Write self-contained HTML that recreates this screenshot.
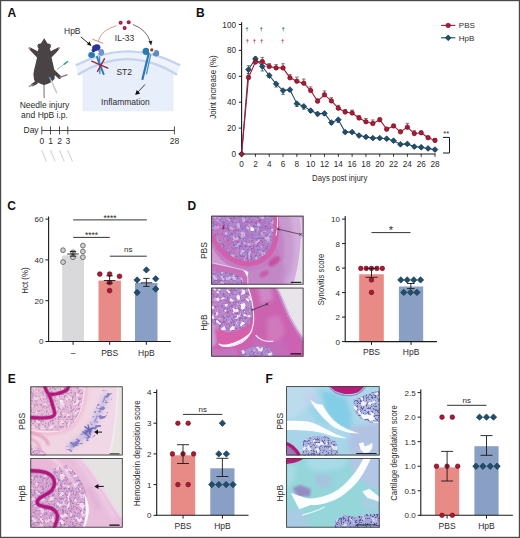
<!DOCTYPE html>
<html><head><meta charset="utf-8"><title>Figure</title>
<style>
html,body{margin:0;padding:0;background:#fff;}
body{width:520px;height:538px;overflow:hidden;font-family:"Liberation Sans",sans-serif;}
svg{display:block;font-family:"Liberation Sans",sans-serif;}
</style></head><body>
<svg width="520" height="538" viewBox="0 0 520 538">
<defs>
<filter id="b05" x="-20%" y="-20%" width="140%" height="140%"><feGaussianBlur stdDeviation="0.5"/></filter>
<filter id="b1" x="-20%" y="-20%" width="140%" height="140%"><feGaussianBlur stdDeviation="1"/></filter>
<filter id="b2" x="-30%" y="-30%" width="160%" height="160%"><feGaussianBlur stdDeviation="2"/></filter>
<filter id="b3" x="-40%" y="-40%" width="180%" height="180%"><feGaussianBlur stdDeviation="3.2"/></filter>
<filter id="spW" x="0" y="0" width="100%" height="100%" color-interpolation-filters="sRGB">
  <feTurbulence type="fractalNoise" baseFrequency="0.42" numOctaves="2" seed="7"/>
  <feColorMatrix values="0 0 0 0 1  0 0 0 0 1  0 0 0 0 1  9 0 0 0 -4.9"/>
  <feGaussianBlur stdDeviation="0.35"/>
</filter>
<filter id="spW2" x="0" y="0" width="100%" height="100%" color-interpolation-filters="sRGB">
  <feTurbulence type="fractalNoise" baseFrequency="0.3" numOctaves="2" seed="21"/>
  <feColorMatrix values="0 0 0 0 1  0 0 0 0 1  0 0 0 0 1  9 0 0 0 -5.0"/>
  <feGaussianBlur stdDeviation="0.4"/>
</filter>
<filter id="spP" x="0" y="0" width="100%" height="100%" color-interpolation-filters="sRGB">
  <feTurbulence type="fractalNoise" baseFrequency="0.5" numOctaves="2" seed="11"/>
  <feColorMatrix values="0 0 0 0 0.42  0 0 0 0 0.32  0 0 0 0 0.68  0 8 0 0 -4.1"/>
  <feGaussianBlur stdDeviation="0.35"/>
</filter>
<filter id="spD" x="0" y="0" width="100%" height="100%" color-interpolation-filters="sRGB">
  <feTurbulence type="fractalNoise" baseFrequency="0.55" numOctaves="2" seed="5"/>
  <feColorMatrix values="0 0 0 0 0.30  0 0 0 0 0.24  0 0 0 0 0.52  0 0 9 0 -4.7"/>
  <feGaussianBlur stdDeviation="0.3"/>
</filter>
<filter id="spK" x="0" y="0" width="100%" height="100%" color-interpolation-filters="sRGB">
  <feTurbulence type="fractalNoise" baseFrequency="0.22" numOctaves="2" seed="31"/>
  <feColorMatrix values="0 0 0 0 0.82  0 0 0 0 0.42  0 0 0 0 0.70  0 7 0 0 -3.5"/>
  <feGaussianBlur stdDeviation="0.5"/>
</filter>
<filter id="spW3" x="0" y="0" width="100%" height="100%" color-interpolation-filters="sRGB">
  <feTurbulence type="fractalNoise" baseFrequency="0.2" numOctaves="2" seed="44"/>
  <feColorMatrix values="0 0 0 0 1  0 0 0 0 0.97  0 0 0 0 1  0 0 10 0 -5.7"/>
  <feGaussianBlur stdDeviation="0.45"/>
</filter>
<filter id="spB" x="0" y="0" width="100%" height="100%" color-interpolation-filters="sRGB">
  <feTurbulence type="fractalNoise" baseFrequency="0.16 0.34" numOctaves="2" seed="9"/>
  <feColorMatrix values="0 0 0 0 0.47  0 0 0 0 0.46  0 0 0 0 0.77  0 10 0 0 -5.45"/>
  <feGaussianBlur stdDeviation="0.45"/>
</filter>
<filter id="grain" x="0" y="0" width="100%" height="100%" color-interpolation-filters="sRGB">
  <feTurbulence type="fractalNoise" baseFrequency="0.8" numOctaves="1" seed="3"/>
  <feColorMatrix values="0 0 0 0 1  0 0 0 0 1  0 0 0 0 1  1.2 0 0 0 -0.45"/>
</filter>
<clipPath id="cD1"><rect x="0" y="0" width="92.3" height="68.8"/></clipPath>
<clipPath id="cD2"><rect x="0" y="0" width="92.3" height="68.9"/></clipPath>
<clipPath id="cE1"><rect x="0" y="0" width="92.3" height="69"/></clipPath>
<clipPath id="cE2"><rect x="0" y="0" width="92.3" height="69.5"/></clipPath>
<clipPath id="cF1"><rect x="0" y="0" width="93.4" height="69.2"/></clipPath>
<clipPath id="cF2"><rect x="0" y="0" width="93.4" height="69.5"/></clipPath>
</defs>

<rect x="0" y="0" width="520" height="538" fill="#fff"/>
<g id="panelA">
<text x="7.5" y="17.3" font-size="12" text-anchor="start" fill="#111" font-weight="bold" >A</text>
<path d="M75.9 65.3Q128 37.3 180.1 65.3L177 74.7Q127.5 43.5 77.8 74.7Z" fill="#edf2fb"/>
<path d="M82.4 111.2V72Q127.5 46.6 173.6 72V111.2Z" fill="#e8eefa"/>
<path d="M75.9 65.3Q128 37.3 180.1 65.3" fill="none" stroke="#c4d3ee" stroke-width="2.3"/>
<path d="M77.8 74.7Q127.5 43.5 177 74.7" fill="none" stroke="#c4d3ee" stroke-width="2.3"/>
<circle cx="120.6" cy="22.8" r="2" fill="#9c1c38"/><circle cx="120.3" cy="22.5" r="0.8" fill="#b8405a"/>
<circle cx="128.7" cy="22.3" r="2" fill="#9c1c38"/><circle cx="128.39999999999998" cy="22.0" r="0.8" fill="#b8405a"/>
<circle cx="124.6" cy="27.9" r="2" fill="#9c1c38"/><circle cx="124.3" cy="27.599999999999998" r="0.8" fill="#b8405a"/>
<text x="124.5" y="41.2" font-size="8.5" text-anchor="middle" fill="#2b2b2b" >IL-33</text>
<text x="124.2" y="75.3" font-size="8.5" text-anchor="middle" fill="#2b2b2b" >ST2</text>
<text x="125.4" y="104.8" font-size="8.5" text-anchor="middle" fill="#2b2b2b" >Inflammation</text>
<text x="64" y="34.3" font-size="8.5" text-anchor="start" fill="#2b2b2b" >HpB</text>
<path d="M116.5 25.6Q101.5 30 98.2 41" fill="none" stroke="#c0715a" stroke-width="0.7"/>
<path d="M92.3 39.2L103.3 43.3" fill="none" stroke="#c0715a" stroke-width="0.8"/>
<path d="M80.8 36.9L89.6 44.3" fill="none" stroke="#111" stroke-width="0.9"/><path d="M91.6 46L86.9 44.6L89.5 41.6Z" fill="#111"/>
<path d="M97 57L103.6 74" stroke="#2a7ab0" stroke-width="2" fill="none" stroke-linecap="round"/>
<path d="M99.5 57L99.8 73.5" stroke="#3f8fd0" stroke-width="1.4" fill="none" stroke-linecap="round"/>
<ellipse cx="91.6" cy="55" rx="3.4" ry="3" fill="#2a7ab0"/>
<ellipse cx="101" cy="52.3" rx="3.2" ry="3.4" fill="#7692cc"/>
<ellipse cx="96.3" cy="47.6" rx="4.2" ry="3.2" fill="#28349a" transform="rotate(-15 96.3 47.6)"/>
<circle cx="93.6" cy="50.2" r="2" fill="#28349a"/>
<circle cx="97.2" cy="52.2" r="1.5" fill="#fff"/>
<path d="M91.7 61.2L107.9 68.1M104.4 58.8L97.5 71.5" stroke="#96283a" stroke-width="1.4" fill="none" stroke-linecap="round"/>
<path d="M148.7 53.8L142.5 79" stroke="#2a7ab0" stroke-width="2.2" fill="none" stroke-linecap="round"/>
<path d="M150.6 55L146.5 74" stroke="#4a8ccc" stroke-width="1.2" fill="none" stroke-linecap="round"/>
<ellipse cx="146" cy="51.3" rx="3.5" ry="3.6" fill="#2a7ab0"/>
<ellipse cx="156" cy="53.3" rx="3.2" ry="3.2" fill="#5f8ac8"/>
<circle cx="151.8" cy="50" r="2.9" fill="#fff"/>
<circle cx="151.8" cy="49.9" r="1.6" fill="#a8301e"/>
<path d="M133 24.5Q146.5 29.5 150.4 42" fill="none" stroke="#3a2a2a" stroke-width="0.7"/><path d="M151.2 45.4L148.4 41.3L152.4 40.7Z" fill="#222"/>
<path d="M145 84.5L138 92" fill="none" stroke="#111" stroke-width="0.8"/><path d="M135.2 95L136.6 90L140.2 93.4Z" fill="#111"/>
<g>
<path d="M44 83L44.1 97.6" stroke="#8d7478" stroke-width="1.1" fill="none" stroke-linecap="round"/>
<path d="M35.6 77.5L36.4 82.6L32.6 84.8" stroke="#4a4346" stroke-width="3" fill="none" stroke-linecap="round" stroke-linejoin="round"/>
<path d="M33 84.6L29.4 86.4" stroke="#a3878b" stroke-width="1.3" fill="none" stroke-linecap="round"/>
<path d="M53.6 71.5L59.4 77" stroke="#4a4346" stroke-width="3.6" fill="none" stroke-linecap="round"/>
<path d="M59.8 77.4L66.8 74.8" stroke="#8d7478" stroke-width="1.4" fill="none" stroke-linecap="round"/>
<path d="M44.2 38.3L46 41L47.5 43.5Q50.6 43.2 51 45.6Q51 47.4 49.8 48.5L50.8 51.3L58 47.4Q59.4 47.6 59 49.4L56.5 52.2L51.5 57.5L52.8 63L54.2 69Q55.6 74 54.5 79Q51 83.4 44.2 85Q37.4 83.4 34 79.5Q32.6 74 34.3 69L35.8 63L37 57.5L32 52.2L29.4 49.4Q29 47.6 30.4 47.4L37.6 51.3L38.6 48.5Q37.4 47.4 37.4 45.6Q37.8 43.2 40.9 43.5L42.4 41Z" fill="#4a4346"/>
<circle cx="29.4" cy="48.2" r="1.1" fill="#c98f94"/><circle cx="59" cy="48.2" r="1.1" fill="#c98f94"/>
<circle cx="38.4" cy="45.6" r="0.8" fill="#6b5a5e"/><circle cx="50" cy="45.6" r="0.8" fill="#6b5a5e"/>
<path d="M57 69.4L66 62.8" stroke="#6b8f8a" stroke-width="0.6" fill="none"/>
<path d="M64.2 64.2L67.6 61.7" stroke="#2fa58a" stroke-width="1.5" fill="none" stroke-linecap="round"/>
<path d="M49.6 77.5L51.4 81" stroke="#5fa8d8" stroke-width="1.4" fill="none" stroke-linecap="round"/>
<path d="M51.4 81L56.6 92.6" stroke="#c9cdd0" stroke-width="1.6" fill="none" stroke-linecap="round"/>
</g>
<text x="44.5" y="108.1" font-size="8.5" text-anchor="middle" fill="#2b2b2b" >Needle injury</text>
<text x="44.5" y="118.1" font-size="8.5" text-anchor="middle" fill="#2b2b2b" >and HpB i.p.</text>
<text x="23.5" y="132.7" font-size="8.5" text-anchor="start" fill="#2b2b2b" >Day</text>
<line x1="41.80" y1="130.50" x2="174.40" y2="130.50" stroke="#222" stroke-width="0.8" />
<line x1="41.80" y1="126.40" x2="41.80" y2="134.40" stroke="#222" stroke-width="0.8" />
<line x1="50.50" y1="126.40" x2="50.50" y2="134.40" stroke="#222" stroke-width="0.8" />
<line x1="59.50" y1="126.40" x2="59.50" y2="134.40" stroke="#222" stroke-width="0.8" />
<line x1="67.80" y1="126.40" x2="67.80" y2="134.40" stroke="#222" stroke-width="0.8" />
<line x1="174.40" y1="126.40" x2="174.40" y2="134.40" stroke="#222" stroke-width="0.8" />
<text x="41.8" y="144.2" font-size="8.5" text-anchor="middle" fill="#2b2b2b" >0</text>
<text x="50.5" y="144.2" font-size="8.5" text-anchor="middle" fill="#2b2b2b" >1</text>
<text x="59.5" y="144.2" font-size="8.5" text-anchor="middle" fill="#2b2b2b" >2</text>
<text x="67.8" y="144.2" font-size="8.5" text-anchor="middle" fill="#2b2b2b" >3</text>
<text x="174.4" y="144.2" font-size="8.5" text-anchor="middle" fill="#2b2b2b" >28</text>
<path d="M41.8 150.5L46.3 161" stroke="#d9d9d9" stroke-width="1.2" fill="none" stroke-linecap="round"/>
<path d="M50.5 150.5L55.0 161" stroke="#d9d9d9" stroke-width="1.2" fill="none" stroke-linecap="round"/>
<path d="M59.5 150.5L64.0 161" stroke="#d9d9d9" stroke-width="1.2" fill="none" stroke-linecap="round"/>
<path d="M67.8 150.5L72.3 161" stroke="#d9d9d9" stroke-width="1.2" fill="none" stroke-linecap="round"/>
</g>
<g id="panelB">
<text x="196" y="16.5" font-size="12" text-anchor="start" fill="#111" font-weight="bold" >B</text>
<line x1="241.60" y1="22.20" x2="241.60" y2="154.50" stroke="#1a1a1a" stroke-width="1.1" />
<line x1="241.10" y1="154.00" x2="435.60" y2="154.00" stroke="#1a1a1a" stroke-width="1.1" />
<line x1="238.80" y1="154.00" x2="241.60" y2="154.00" stroke="#1a1a1a" stroke-width="1" />
<text x="236.0" y="157.0" font-size="8.2" text-anchor="end" fill="#2b2b2b" >0</text>
<line x1="238.80" y1="128.10" x2="241.60" y2="128.10" stroke="#1a1a1a" stroke-width="1" />
<text x="236.0" y="131.1" font-size="8.2" text-anchor="end" fill="#2b2b2b" >20</text>
<line x1="238.80" y1="102.20" x2="241.60" y2="102.20" stroke="#1a1a1a" stroke-width="1" />
<text x="236.0" y="105.2" font-size="8.2" text-anchor="end" fill="#2b2b2b" >40</text>
<line x1="238.80" y1="76.30" x2="241.60" y2="76.30" stroke="#1a1a1a" stroke-width="1" />
<text x="236.0" y="79.30000000000001" font-size="8.2" text-anchor="end" fill="#2b2b2b" >60</text>
<line x1="238.80" y1="50.40" x2="241.60" y2="50.40" stroke="#1a1a1a" stroke-width="1" />
<text x="236.0" y="53.400000000000006" font-size="8.2" text-anchor="end" fill="#2b2b2b" >80</text>
<line x1="238.80" y1="24.50" x2="241.60" y2="24.50" stroke="#1a1a1a" stroke-width="1" />
<text x="236.0" y="27.5" font-size="8.2" text-anchor="end" fill="#2b2b2b" >100</text>
<line x1="241.60" y1="154.00" x2="241.60" y2="156.80" stroke="#1a1a1a" stroke-width="0.9" />
<line x1="255.41" y1="154.00" x2="255.41" y2="156.80" stroke="#1a1a1a" stroke-width="0.9" />
<line x1="269.23" y1="154.00" x2="269.23" y2="156.80" stroke="#1a1a1a" stroke-width="0.9" />
<line x1="283.04" y1="154.00" x2="283.04" y2="156.80" stroke="#1a1a1a" stroke-width="0.9" />
<line x1="296.86" y1="154.00" x2="296.86" y2="156.80" stroke="#1a1a1a" stroke-width="0.9" />
<line x1="310.67" y1="154.00" x2="310.67" y2="156.80" stroke="#1a1a1a" stroke-width="0.9" />
<line x1="324.48" y1="154.00" x2="324.48" y2="156.80" stroke="#1a1a1a" stroke-width="0.9" />
<line x1="338.30" y1="154.00" x2="338.30" y2="156.80" stroke="#1a1a1a" stroke-width="0.9" />
<line x1="352.11" y1="154.00" x2="352.11" y2="156.80" stroke="#1a1a1a" stroke-width="0.9" />
<line x1="365.93" y1="154.00" x2="365.93" y2="156.80" stroke="#1a1a1a" stroke-width="0.9" />
<line x1="379.74" y1="154.00" x2="379.74" y2="156.80" stroke="#1a1a1a" stroke-width="0.9" />
<line x1="393.55" y1="154.00" x2="393.55" y2="156.80" stroke="#1a1a1a" stroke-width="0.9" />
<line x1="407.37" y1="154.00" x2="407.37" y2="156.80" stroke="#1a1a1a" stroke-width="0.9" />
<line x1="421.18" y1="154.00" x2="421.18" y2="156.80" stroke="#1a1a1a" stroke-width="0.9" />
<line x1="435.00" y1="154.00" x2="435.00" y2="156.80" stroke="#1a1a1a" stroke-width="0.9" />
<text x="241.6" y="167.2" font-size="8.2" text-anchor="middle" fill="#2b2b2b" >0</text>
<text x="255.414" y="167.2" font-size="8.2" text-anchor="middle" fill="#2b2b2b" >2</text>
<text x="269.228" y="167.2" font-size="8.2" text-anchor="middle" fill="#2b2b2b" >4</text>
<text x="283.042" y="167.2" font-size="8.2" text-anchor="middle" fill="#2b2b2b" >6</text>
<text x="296.856" y="167.2" font-size="8.2" text-anchor="middle" fill="#2b2b2b" >8</text>
<text x="310.66999999999996" y="167.2" font-size="8.2" text-anchor="middle" fill="#2b2b2b" >10</text>
<text x="324.484" y="167.2" font-size="8.2" text-anchor="middle" fill="#2b2b2b" >12</text>
<text x="338.298" y="167.2" font-size="8.2" text-anchor="middle" fill="#2b2b2b" >14</text>
<text x="352.11199999999997" y="167.2" font-size="8.2" text-anchor="middle" fill="#2b2b2b" >16</text>
<text x="365.926" y="167.2" font-size="8.2" text-anchor="middle" fill="#2b2b2b" >18</text>
<text x="379.74" y="167.2" font-size="8.2" text-anchor="middle" fill="#2b2b2b" >20</text>
<text x="393.554" y="167.2" font-size="8.2" text-anchor="middle" fill="#2b2b2b" >22</text>
<text x="407.368" y="167.2" font-size="8.2" text-anchor="middle" fill="#2b2b2b" >24</text>
<text x="421.182" y="167.2" font-size="8.2" text-anchor="middle" fill="#2b2b2b" >26</text>
<text x="434.996" y="167.2" font-size="8.2" text-anchor="middle" fill="#2b2b2b" >28</text>
<text x="215.70000000000002" y="87" font-size="8.5" text-anchor="middle" fill="#2b2b2b" textLength="63.5" lengthAdjust="spacingAndGlyphs" transform="rotate(-90 215.70000000000002 87)" >Joint increase (%)</text>
<text x="339.7" y="180.7" font-size="8.5" text-anchor="middle" fill="#2b2b2b" textLength="55.2" lengthAdjust="spacingAndGlyphs" >Days post injury</text>
<line x1="248.51" y1="69.57" x2="248.51" y2="65.68" stroke="#33424e" stroke-width="0.7" /><line x1="246.71" y1="65.68" x2="250.31" y2="65.68" stroke="#33424e" stroke-width="0.7" /><line x1="248.51" y1="69.57" x2="248.51" y2="73.45" stroke="#33424e" stroke-width="0.7" /><line x1="246.71" y1="73.45" x2="250.31" y2="73.45" stroke="#33424e" stroke-width="0.7" />
<line x1="255.41" y1="58.82" x2="255.41" y2="56.88" stroke="#33424e" stroke-width="0.7" /><line x1="253.61" y1="56.88" x2="257.21" y2="56.88" stroke="#33424e" stroke-width="0.7" /><line x1="255.41" y1="58.82" x2="255.41" y2="60.76" stroke="#33424e" stroke-width="0.7" /><line x1="253.61" y1="60.76" x2="257.21" y2="60.76" stroke="#33424e" stroke-width="0.7" />
<line x1="262.32" y1="66.46" x2="262.32" y2="70.99" stroke="#33424e" stroke-width="0.7" /><line x1="260.52" y1="70.99" x2="264.12" y2="70.99" stroke="#33424e" stroke-width="0.7" />
<line x1="269.23" y1="75.52" x2="269.23" y2="77.47" stroke="#33424e" stroke-width="0.7" /><line x1="267.43" y1="77.47" x2="271.03" y2="77.47" stroke="#33424e" stroke-width="0.7" />
<line x1="276.13" y1="83.81" x2="276.13" y2="87.05" stroke="#33424e" stroke-width="0.7" /><line x1="274.33" y1="87.05" x2="277.94" y2="87.05" stroke="#33424e" stroke-width="0.7" />
<line x1="283.04" y1="90.55" x2="283.04" y2="94.43" stroke="#33424e" stroke-width="0.7" /><line x1="281.24" y1="94.43" x2="284.84" y2="94.43" stroke="#33424e" stroke-width="0.7" />
<line x1="289.95" y1="89.64" x2="289.95" y2="91.58" stroke="#33424e" stroke-width="0.7" /><line x1="288.15" y1="91.58" x2="291.75" y2="91.58" stroke="#33424e" stroke-width="0.7" />
<line x1="296.86" y1="103.62" x2="296.86" y2="106.47" stroke="#33424e" stroke-width="0.7" /><line x1="295.06" y1="106.47" x2="298.66" y2="106.47" stroke="#33424e" stroke-width="0.7" />
<line x1="303.76" y1="106.34" x2="303.76" y2="109.19" stroke="#33424e" stroke-width="0.7" /><line x1="301.96" y1="109.19" x2="305.56" y2="109.19" stroke="#33424e" stroke-width="0.7" />
<line x1="310.67" y1="110.62" x2="310.67" y2="112.56" stroke="#33424e" stroke-width="0.7" /><line x1="308.87" y1="112.56" x2="312.47" y2="112.56" stroke="#33424e" stroke-width="0.7" />
<line x1="317.58" y1="113.86" x2="317.58" y2="115.80" stroke="#33424e" stroke-width="0.7" /><line x1="315.78" y1="115.80" x2="319.38" y2="115.80" stroke="#33424e" stroke-width="0.7" />
<line x1="324.48" y1="113.34" x2="324.48" y2="115.28" stroke="#33424e" stroke-width="0.7" /><line x1="322.68" y1="115.28" x2="326.28" y2="115.28" stroke="#33424e" stroke-width="0.7" />
<line x1="331.39" y1="122.53" x2="331.39" y2="124.47" stroke="#33424e" stroke-width="0.7" /><line x1="329.59" y1="124.47" x2="333.19" y2="124.47" stroke="#33424e" stroke-width="0.7" />
<line x1="338.30" y1="119.68" x2="338.30" y2="122.53" stroke="#33424e" stroke-width="0.7" /><line x1="336.50" y1="122.53" x2="340.10" y2="122.53" stroke="#33424e" stroke-width="0.7" />
<line x1="345.20" y1="132.11" x2="345.20" y2="133.41" stroke="#33424e" stroke-width="0.7" /><line x1="343.40" y1="133.41" x2="347.00" y2="133.41" stroke="#33424e" stroke-width="0.7" />
<line x1="352.11" y1="132.11" x2="352.11" y2="133.41" stroke="#33424e" stroke-width="0.7" /><line x1="350.31" y1="133.41" x2="353.91" y2="133.41" stroke="#33424e" stroke-width="0.7" />
<line x1="359.02" y1="135.48" x2="359.02" y2="136.78" stroke="#33424e" stroke-width="0.7" /><line x1="357.22" y1="136.78" x2="360.82" y2="136.78" stroke="#33424e" stroke-width="0.7" />
<line x1="365.93" y1="136.91" x2="365.93" y2="138.20" stroke="#33424e" stroke-width="0.7" /><line x1="364.13" y1="138.20" x2="367.73" y2="138.20" stroke="#33424e" stroke-width="0.7" />
<line x1="372.83" y1="138.07" x2="372.83" y2="139.37" stroke="#33424e" stroke-width="0.7" /><line x1="371.03" y1="139.37" x2="374.63" y2="139.37" stroke="#33424e" stroke-width="0.7" />
<line x1="379.74" y1="138.07" x2="379.74" y2="139.37" stroke="#33424e" stroke-width="0.7" /><line x1="377.94" y1="139.37" x2="381.54" y2="139.37" stroke="#33424e" stroke-width="0.7" />
<line x1="386.65" y1="138.72" x2="386.65" y2="140.01" stroke="#33424e" stroke-width="0.7" /><line x1="384.85" y1="140.01" x2="388.45" y2="140.01" stroke="#33424e" stroke-width="0.7" />
<line x1="393.55" y1="140.66" x2="393.55" y2="141.96" stroke="#33424e" stroke-width="0.7" /><line x1="391.75" y1="141.96" x2="395.35" y2="141.96" stroke="#33424e" stroke-width="0.7" />
<line x1="400.46" y1="144.29" x2="400.46" y2="145.58" stroke="#33424e" stroke-width="0.7" /><line x1="398.66" y1="145.58" x2="402.26" y2="145.58" stroke="#33424e" stroke-width="0.7" />
<line x1="407.37" y1="143.90" x2="407.37" y2="145.19" stroke="#33424e" stroke-width="0.7" /><line x1="405.57" y1="145.19" x2="409.17" y2="145.19" stroke="#33424e" stroke-width="0.7" />
<line x1="414.27" y1="146.62" x2="414.27" y2="147.91" stroke="#33424e" stroke-width="0.7" /><line x1="412.47" y1="147.91" x2="416.07" y2="147.91" stroke="#33424e" stroke-width="0.7" />
<line x1="421.18" y1="147.27" x2="421.18" y2="148.56" stroke="#33424e" stroke-width="0.7" /><line x1="419.38" y1="148.56" x2="422.98" y2="148.56" stroke="#33424e" stroke-width="0.7" />
<line x1="428.09" y1="148.43" x2="428.09" y2="149.73" stroke="#33424e" stroke-width="0.7" /><line x1="426.29" y1="149.73" x2="429.89" y2="149.73" stroke="#33424e" stroke-width="0.7" />
<line x1="435.00" y1="149.60" x2="435.00" y2="150.89" stroke="#33424e" stroke-width="0.7" /><line x1="433.20" y1="150.89" x2="436.80" y2="150.89" stroke="#33424e" stroke-width="0.7" />
<polyline points="241.60,154.00 248.51,69.57 255.41,58.82 262.32,66.46 269.23,75.52 276.13,83.81 283.04,90.55 289.95,89.64 296.86,103.62 303.76,106.34 310.67,110.62 317.58,113.86 324.48,113.34 331.39,122.53 338.30,119.68 345.20,132.11 352.11,132.11 359.02,135.48 365.93,136.91 372.83,138.07 379.74,138.07 386.65,138.72 393.55,140.66 400.46,144.29 407.37,143.90 414.27,146.62 421.18,147.27 428.09,148.43 435.00,149.60" fill="none" stroke="#1f4e6e" stroke-width="1.1" stroke-linejoin="round"/>
<path d="M241.60 151.10L244.50 154.00L241.60 156.90L238.70 154.00Z" fill="#1f4e6e" stroke="#0e2a3c" stroke-width="0.6"/>
<path d="M248.51 66.67L251.41 69.57L248.51 72.47L245.61 69.57Z" fill="#1f4e6e" stroke="#0e2a3c" stroke-width="0.6"/>
<path d="M255.41 55.92L258.31 58.82L255.41 61.72L252.51 58.82Z" fill="#1f4e6e" stroke="#0e2a3c" stroke-width="0.6"/>
<path d="M262.32 63.56L265.22 66.46L262.32 69.36L259.42 66.46Z" fill="#1f4e6e" stroke="#0e2a3c" stroke-width="0.6"/>
<path d="M269.23 72.62L272.13 75.52L269.23 78.42L266.33 75.52Z" fill="#1f4e6e" stroke="#0e2a3c" stroke-width="0.6"/>
<path d="M276.13 80.91L279.03 83.81L276.13 86.71L273.24 83.81Z" fill="#1f4e6e" stroke="#0e2a3c" stroke-width="0.6"/>
<path d="M283.04 87.64L285.94 90.55L283.04 93.45L280.14 90.55Z" fill="#1f4e6e" stroke="#0e2a3c" stroke-width="0.6"/>
<path d="M289.95 86.74L292.85 89.64L289.95 92.54L287.05 89.64Z" fill="#1f4e6e" stroke="#0e2a3c" stroke-width="0.6"/>
<path d="M296.86 100.72L299.76 103.62L296.86 106.52L293.96 103.62Z" fill="#1f4e6e" stroke="#0e2a3c" stroke-width="0.6"/>
<path d="M303.76 103.44L306.66 106.34L303.76 109.24L300.86 106.34Z" fill="#1f4e6e" stroke="#0e2a3c" stroke-width="0.6"/>
<path d="M310.67 107.72L313.57 110.62L310.67 113.52L307.77 110.62Z" fill="#1f4e6e" stroke="#0e2a3c" stroke-width="0.6"/>
<path d="M317.58 110.95L320.48 113.86L317.58 116.76L314.68 113.86Z" fill="#1f4e6e" stroke="#0e2a3c" stroke-width="0.6"/>
<path d="M324.48 110.44L327.38 113.34L324.48 116.24L321.58 113.34Z" fill="#1f4e6e" stroke="#0e2a3c" stroke-width="0.6"/>
<path d="M331.39 119.63L334.29 122.53L331.39 125.43L328.49 122.53Z" fill="#1f4e6e" stroke="#0e2a3c" stroke-width="0.6"/>
<path d="M338.30 116.78L341.20 119.68L338.30 122.58L335.40 119.68Z" fill="#1f4e6e" stroke="#0e2a3c" stroke-width="0.6"/>
<path d="M345.20 129.21L348.10 132.11L345.20 135.01L342.31 132.11Z" fill="#1f4e6e" stroke="#0e2a3c" stroke-width="0.6"/>
<path d="M352.11 129.21L355.01 132.11L352.11 135.01L349.21 132.11Z" fill="#1f4e6e" stroke="#0e2a3c" stroke-width="0.6"/>
<path d="M359.02 132.58L361.92 135.48L359.02 138.38L356.12 135.48Z" fill="#1f4e6e" stroke="#0e2a3c" stroke-width="0.6"/>
<path d="M365.93 134.01L368.83 136.91L365.93 139.81L363.03 136.91Z" fill="#1f4e6e" stroke="#0e2a3c" stroke-width="0.6"/>
<path d="M372.83 135.17L375.73 138.07L372.83 140.97L369.93 138.07Z" fill="#1f4e6e" stroke="#0e2a3c" stroke-width="0.6"/>
<path d="M379.74 135.17L382.64 138.07L379.74 140.97L376.84 138.07Z" fill="#1f4e6e" stroke="#0e2a3c" stroke-width="0.6"/>
<path d="M386.65 135.82L389.55 138.72L386.65 141.62L383.75 138.72Z" fill="#1f4e6e" stroke="#0e2a3c" stroke-width="0.6"/>
<path d="M393.55 137.76L396.45 140.66L393.55 143.56L390.65 140.66Z" fill="#1f4e6e" stroke="#0e2a3c" stroke-width="0.6"/>
<path d="M400.46 141.39L403.36 144.29L400.46 147.19L397.56 144.29Z" fill="#1f4e6e" stroke="#0e2a3c" stroke-width="0.6"/>
<path d="M407.37 141.00L410.27 143.90L407.37 146.80L404.47 143.90Z" fill="#1f4e6e" stroke="#0e2a3c" stroke-width="0.6"/>
<path d="M414.27 143.72L417.17 146.62L414.27 149.52L411.38 146.62Z" fill="#1f4e6e" stroke="#0e2a3c" stroke-width="0.6"/>
<path d="M421.18 144.37L424.08 147.27L421.18 150.17L418.28 147.27Z" fill="#1f4e6e" stroke="#0e2a3c" stroke-width="0.6"/>
<path d="M428.09 145.53L430.99 148.43L428.09 151.33L425.19 148.43Z" fill="#1f4e6e" stroke="#0e2a3c" stroke-width="0.6"/>
<path d="M435.00 146.70L437.90 149.60L435.00 152.50L432.10 149.60Z" fill="#1f4e6e" stroke="#0e2a3c" stroke-width="0.6"/>
<line x1="248.51" y1="77.59" x2="248.51" y2="75.65" stroke="#5a3a42" stroke-width="0.7" /><line x1="246.71" y1="75.65" x2="250.31" y2="75.65" stroke="#5a3a42" stroke-width="0.7" />
<line x1="255.41" y1="62.06" x2="255.41" y2="59.47" stroke="#5a3a42" stroke-width="0.7" /><line x1="253.61" y1="59.47" x2="257.21" y2="59.47" stroke="#5a3a42" stroke-width="0.7" />
<line x1="262.32" y1="61.54" x2="262.32" y2="57.39" stroke="#5a3a42" stroke-width="0.7" /><line x1="260.52" y1="57.39" x2="264.12" y2="57.39" stroke="#5a3a42" stroke-width="0.7" />
<line x1="269.23" y1="66.46" x2="269.23" y2="63.61" stroke="#5a3a42" stroke-width="0.7" /><line x1="267.43" y1="63.61" x2="271.03" y2="63.61" stroke="#5a3a42" stroke-width="0.7" />
<line x1="276.13" y1="67.88" x2="276.13" y2="64.65" stroke="#5a3a42" stroke-width="0.7" /><line x1="274.33" y1="64.65" x2="277.94" y2="64.65" stroke="#5a3a42" stroke-width="0.7" />
<line x1="283.04" y1="67.88" x2="283.04" y2="63.74" stroke="#5a3a42" stroke-width="0.7" /><line x1="281.24" y1="63.74" x2="284.84" y2="63.74" stroke="#5a3a42" stroke-width="0.7" />
<line x1="289.95" y1="77.85" x2="289.95" y2="74.62" stroke="#5a3a42" stroke-width="0.7" /><line x1="288.15" y1="74.62" x2="291.75" y2="74.62" stroke="#5a3a42" stroke-width="0.7" />
<line x1="296.86" y1="81.22" x2="296.86" y2="77.08" stroke="#5a3a42" stroke-width="0.7" /><line x1="295.06" y1="77.08" x2="298.66" y2="77.08" stroke="#5a3a42" stroke-width="0.7" />
<line x1="303.76" y1="83.16" x2="303.76" y2="79.02" stroke="#5a3a42" stroke-width="0.7" /><line x1="301.96" y1="79.02" x2="305.56" y2="79.02" stroke="#5a3a42" stroke-width="0.7" />
<line x1="310.67" y1="90.55" x2="310.67" y2="86.92" stroke="#5a3a42" stroke-width="0.7" /><line x1="308.87" y1="86.92" x2="312.47" y2="86.92" stroke="#5a3a42" stroke-width="0.7" />
<line x1="317.58" y1="101.16" x2="317.58" y2="98.83" stroke="#5a3a42" stroke-width="0.7" /><line x1="315.78" y1="98.83" x2="319.38" y2="98.83" stroke="#5a3a42" stroke-width="0.7" />
<line x1="324.48" y1="94.82" x2="324.48" y2="90.93" stroke="#5a3a42" stroke-width="0.7" /><line x1="322.68" y1="90.93" x2="326.28" y2="90.93" stroke="#5a3a42" stroke-width="0.7" />
<line x1="331.39" y1="100.91" x2="331.39" y2="97.67" stroke="#5a3a42" stroke-width="0.7" /><line x1="329.59" y1="97.67" x2="333.19" y2="97.67" stroke="#5a3a42" stroke-width="0.7" />
<line x1="338.30" y1="108.16" x2="338.30" y2="105.31" stroke="#5a3a42" stroke-width="0.7" /><line x1="336.50" y1="105.31" x2="340.10" y2="105.31" stroke="#5a3a42" stroke-width="0.7" />
<line x1="345.20" y1="112.04" x2="345.20" y2="109.45" stroke="#5a3a42" stroke-width="0.7" /><line x1="343.40" y1="109.45" x2="347.00" y2="109.45" stroke="#5a3a42" stroke-width="0.7" />
<line x1="352.11" y1="112.95" x2="352.11" y2="110.10" stroke="#5a3a42" stroke-width="0.7" /><line x1="350.31" y1="110.10" x2="353.91" y2="110.10" stroke="#5a3a42" stroke-width="0.7" />
<line x1="359.02" y1="118.00" x2="359.02" y2="115.41" stroke="#5a3a42" stroke-width="0.7" /><line x1="357.22" y1="115.41" x2="360.82" y2="115.41" stroke="#5a3a42" stroke-width="0.7" />
<line x1="365.93" y1="121.75" x2="365.93" y2="118.52" stroke="#5a3a42" stroke-width="0.7" /><line x1="364.13" y1="118.52" x2="367.73" y2="118.52" stroke="#5a3a42" stroke-width="0.7" />
<line x1="372.83" y1="123.57" x2="372.83" y2="119.94" stroke="#5a3a42" stroke-width="0.7" /><line x1="371.03" y1="119.94" x2="374.63" y2="119.94" stroke="#5a3a42" stroke-width="0.7" />
<line x1="379.74" y1="119.68" x2="379.74" y2="118.13" stroke="#5a3a42" stroke-width="0.7" /><line x1="377.94" y1="118.13" x2="381.54" y2="118.13" stroke="#5a3a42" stroke-width="0.7" />
<line x1="386.65" y1="129.14" x2="386.65" y2="127.58" stroke="#5a3a42" stroke-width="0.7" /><line x1="384.85" y1="127.58" x2="388.45" y2="127.58" stroke="#5a3a42" stroke-width="0.7" />
<line x1="393.55" y1="125.90" x2="393.55" y2="124.34" stroke="#5a3a42" stroke-width="0.7" /><line x1="391.75" y1="124.34" x2="395.35" y2="124.34" stroke="#5a3a42" stroke-width="0.7" />
<line x1="400.46" y1="131.86" x2="400.46" y2="130.30" stroke="#5a3a42" stroke-width="0.7" /><line x1="398.66" y1="130.30" x2="402.26" y2="130.30" stroke="#5a3a42" stroke-width="0.7" />
<line x1="407.37" y1="127.19" x2="407.37" y2="123.31" stroke="#5a3a42" stroke-width="0.7" /><line x1="405.57" y1="123.31" x2="409.17" y2="123.31" stroke="#5a3a42" stroke-width="0.7" />
<line x1="414.27" y1="133.54" x2="414.27" y2="130.69" stroke="#5a3a42" stroke-width="0.7" /><line x1="412.47" y1="130.69" x2="416.07" y2="130.69" stroke="#5a3a42" stroke-width="0.7" />
<line x1="421.18" y1="132.76" x2="421.18" y2="131.21" stroke="#5a3a42" stroke-width="0.7" /><line x1="419.38" y1="131.21" x2="422.98" y2="131.21" stroke="#5a3a42" stroke-width="0.7" />
<line x1="428.09" y1="137.68" x2="428.09" y2="136.13" stroke="#5a3a42" stroke-width="0.7" /><line x1="426.29" y1="136.13" x2="429.89" y2="136.13" stroke="#5a3a42" stroke-width="0.7" />
<line x1="435.00" y1="140.40" x2="435.00" y2="138.46" stroke="#5a3a42" stroke-width="0.7" /><line x1="433.20" y1="138.46" x2="436.80" y2="138.46" stroke="#5a3a42" stroke-width="0.7" />
<polyline points="241.60,154.00 248.51,77.59 255.41,62.06 262.32,61.54 269.23,66.46 276.13,67.88 283.04,67.88 289.95,77.85 296.86,81.22 303.76,83.16 310.67,90.55 317.58,101.16 324.48,94.82 331.39,100.91 338.30,108.16 345.20,112.04 352.11,112.95 359.02,118.00 365.93,121.75 372.83,123.57 379.74,119.68 386.65,129.14 393.55,125.90 400.46,131.86 407.37,127.19 414.27,133.54 421.18,132.76 428.09,137.68 435.00,140.40" fill="none" stroke="#b01733" stroke-width="1.1" stroke-linejoin="round"/>
<path d="M241.60 151.40L244.20 154.00L241.60 156.60L239.00 154.00Z" fill="#b01733" stroke="#5e0d1d" stroke-width="0.6"/>
<circle cx="248.51" cy="77.59" r="2.25" fill="#b01733" stroke="#5e0d1d" stroke-width="0.6"/>
<circle cx="255.41" cy="62.06" r="2.25" fill="#b01733" stroke="#5e0d1d" stroke-width="0.6"/>
<circle cx="262.32" cy="61.54" r="2.25" fill="#b01733" stroke="#5e0d1d" stroke-width="0.6"/>
<circle cx="269.23" cy="66.46" r="2.25" fill="#b01733" stroke="#5e0d1d" stroke-width="0.6"/>
<circle cx="276.13" cy="67.88" r="2.25" fill="#b01733" stroke="#5e0d1d" stroke-width="0.6"/>
<circle cx="283.04" cy="67.88" r="2.25" fill="#b01733" stroke="#5e0d1d" stroke-width="0.6"/>
<circle cx="289.95" cy="77.85" r="2.25" fill="#b01733" stroke="#5e0d1d" stroke-width="0.6"/>
<circle cx="296.86" cy="81.22" r="2.25" fill="#b01733" stroke="#5e0d1d" stroke-width="0.6"/>
<circle cx="303.76" cy="83.16" r="2.25" fill="#b01733" stroke="#5e0d1d" stroke-width="0.6"/>
<circle cx="310.67" cy="90.55" r="2.25" fill="#b01733" stroke="#5e0d1d" stroke-width="0.6"/>
<circle cx="317.58" cy="101.16" r="2.25" fill="#b01733" stroke="#5e0d1d" stroke-width="0.6"/>
<circle cx="324.48" cy="94.82" r="2.25" fill="#b01733" stroke="#5e0d1d" stroke-width="0.6"/>
<circle cx="331.39" cy="100.91" r="2.25" fill="#b01733" stroke="#5e0d1d" stroke-width="0.6"/>
<circle cx="338.30" cy="108.16" r="2.25" fill="#b01733" stroke="#5e0d1d" stroke-width="0.6"/>
<circle cx="345.20" cy="112.04" r="2.25" fill="#b01733" stroke="#5e0d1d" stroke-width="0.6"/>
<circle cx="352.11" cy="112.95" r="2.25" fill="#b01733" stroke="#5e0d1d" stroke-width="0.6"/>
<circle cx="359.02" cy="118.00" r="2.25" fill="#b01733" stroke="#5e0d1d" stroke-width="0.6"/>
<circle cx="365.93" cy="121.75" r="2.25" fill="#b01733" stroke="#5e0d1d" stroke-width="0.6"/>
<circle cx="372.83" cy="123.57" r="2.25" fill="#b01733" stroke="#5e0d1d" stroke-width="0.6"/>
<circle cx="379.74" cy="119.68" r="2.25" fill="#b01733" stroke="#5e0d1d" stroke-width="0.6"/>
<circle cx="386.65" cy="129.14" r="2.25" fill="#b01733" stroke="#5e0d1d" stroke-width="0.6"/>
<circle cx="393.55" cy="125.90" r="2.25" fill="#b01733" stroke="#5e0d1d" stroke-width="0.6"/>
<circle cx="400.46" cy="131.86" r="2.25" fill="#b01733" stroke="#5e0d1d" stroke-width="0.6"/>
<circle cx="407.37" cy="127.19" r="2.25" fill="#b01733" stroke="#5e0d1d" stroke-width="0.6"/>
<circle cx="414.27" cy="133.54" r="2.25" fill="#b01733" stroke="#5e0d1d" stroke-width="0.6"/>
<circle cx="421.18" cy="132.76" r="2.25" fill="#b01733" stroke="#5e0d1d" stroke-width="0.6"/>
<circle cx="428.09" cy="137.68" r="2.25" fill="#b01733" stroke="#5e0d1d" stroke-width="0.6"/>
<circle cx="435.00" cy="140.40" r="2.25" fill="#b01733" stroke="#5e0d1d" stroke-width="0.6"/>
<text x="247" y="30.7" font-size="6" text-anchor="middle" fill="#2f5878" font-weight="bold" >†</text>
<text x="261.2" y="30.7" font-size="6" text-anchor="middle" fill="#2f5878" font-weight="bold" >†</text>
<text x="283.1" y="30.7" font-size="6" text-anchor="middle" fill="#2f5878" font-weight="bold" >†</text>
<text x="247.3" y="43" font-size="6" text-anchor="middle" fill="#c41f3a" font-weight="bold" >†</text>
<text x="254.5" y="43" font-size="6" text-anchor="middle" fill="#c41f3a" font-weight="bold" >†</text>
<text x="261.6" y="43" font-size="6" text-anchor="middle" fill="#c41f3a" font-weight="bold" >†</text>
<text x="282.7" y="43" font-size="6" text-anchor="middle" fill="#c41f3a" font-weight="bold" >†</text>
<line x1="441.00" y1="25.40" x2="455.40" y2="25.40" stroke="#b01733" stroke-width="1.1" />
<circle cx="448.20" cy="25.40" r="2.25" fill="#b01733" stroke="#5e0d1d" stroke-width="0.6"/>
<text x="458.8" y="28.3" font-size="8" text-anchor="start" fill="#2b2b2b" >PBS</text>
<line x1="441.00" y1="37.80" x2="455.40" y2="37.80" stroke="#1f4e6e" stroke-width="1.1" />
<path d="M448.20 34.90L451.10 37.80L448.20 40.70L445.30 37.80Z" fill="#1f4e6e" stroke="#0e2a3c" stroke-width="0.6"/>
<text x="458.8" y="40.7" font-size="8" text-anchor="start" fill="#2b2b2b" >HpB</text>
<path d="M443 137.4H449.5V153H443" fill="none" stroke="#1a1a1a" stroke-width="1"/>
<text x="446.2" y="135.5" font-size="7.5" text-anchor="middle" fill="#2b2b2b" >**</text>
</g>
<g id="panelC">
<text x="7.3" y="210" font-size="12" text-anchor="start" fill="#111" font-weight="bold" >C</text>
<rect x="62.2" y="255.4" width="21.8" height="86.10" fill="#d9d9dc"/>
<rect x="98.5" y="280.6" width="22.4" height="60.90" fill="#e88b87"/>
<rect x="135" y="283" width="22.5" height="58.50" fill="#8a9fc4"/>
<line x1="48.60" y1="216.50" x2="48.60" y2="342.00" stroke="#1a1a1a" stroke-width="1.1" />
<line x1="48.10" y1="341.50" x2="170.80" y2="341.50" stroke="#1a1a1a" stroke-width="1.1" />
<line x1="45.40" y1="341.50" x2="48.60" y2="341.50" stroke="#1a1a1a" stroke-width="1" />
<text x="43.4" y="344.4" font-size="8" text-anchor="end" fill="#2b2b2b" >0</text>
<line x1="45.40" y1="300.70" x2="48.60" y2="300.70" stroke="#1a1a1a" stroke-width="1" />
<text x="43.4" y="303.59999999999997" font-size="8" text-anchor="end" fill="#2b2b2b" >20</text>
<line x1="45.40" y1="259.90" x2="48.60" y2="259.90" stroke="#1a1a1a" stroke-width="1" />
<text x="43.4" y="262.79999999999995" font-size="8" text-anchor="end" fill="#2b2b2b" >40</text>
<line x1="45.40" y1="219.10" x2="48.60" y2="219.10" stroke="#1a1a1a" stroke-width="1" />
<text x="43.4" y="222.0" font-size="8" text-anchor="end" fill="#2b2b2b" >60</text>
<line x1="73.10" y1="341.50" x2="73.10" y2="344.80" stroke="#1a1a1a" stroke-width="1" />
<line x1="109.70" y1="341.50" x2="109.70" y2="344.80" stroke="#1a1a1a" stroke-width="1" />
<line x1="146.30" y1="341.50" x2="146.30" y2="344.80" stroke="#1a1a1a" stroke-width="1" />
<text x="73.1" y="355.5" font-size="8.5" text-anchor="middle" fill="#2b2b2b" >–</text>
<text x="109.7" y="355.8" font-size="8.5" text-anchor="middle" fill="#2b2b2b" >PBS</text>
<text x="146.3" y="355.8" font-size="8.5" text-anchor="middle" fill="#2b2b2b" >HpB</text>
<text x="27.6" y="280.5" font-size="8.5" text-anchor="middle" fill="#2b2b2b" textLength="26.5" lengthAdjust="spacingAndGlyphs" transform="rotate(-90 27.6 280.5)" >Hct (%)</text>
<circle cx="63.00" cy="250.20" r="2.4" fill="#d0d0d0" stroke="#555" stroke-width="0.8"/>
<circle cx="63.00" cy="262.10" r="2.4" fill="#d0d0d0" stroke="#555" stroke-width="0.8"/>
<circle cx="73.00" cy="252.30" r="2.4" fill="#d0d0d0" stroke="#555" stroke-width="0.8"/>
<circle cx="73.00" cy="257.20" r="2.4" fill="#d0d0d0" stroke="#555" stroke-width="0.8"/>
<circle cx="82.90" cy="245.60" r="2.4" fill="#d0d0d0" stroke="#555" stroke-width="0.8"/>
<circle cx="82.90" cy="251.50" r="2.4" fill="#d0d0d0" stroke="#555" stroke-width="0.8"/>
<circle cx="82.90" cy="257.20" r="2.4" fill="#d0d0d0" stroke="#555" stroke-width="0.8"/>
<circle cx="99.80" cy="274.10" r="2.4" fill="#b01733" stroke="#5e0d1d" stroke-width="0.6"/>
<circle cx="109.60" cy="274.10" r="2.4" fill="#b01733" stroke="#5e0d1d" stroke-width="0.6"/>
<circle cx="119.50" cy="276.30" r="2.4" fill="#b01733" stroke="#5e0d1d" stroke-width="0.6"/>
<circle cx="109.60" cy="282.60" r="2.4" fill="#b01733" stroke="#5e0d1d" stroke-width="0.6"/>
<circle cx="109.60" cy="290.60" r="2.4" fill="#b01733" stroke="#5e0d1d" stroke-width="0.6"/>
<path d="M146.40 266.70L149.60 269.90L146.40 273.10L143.20 269.90Z" fill="#1f4e6e" stroke="#0e2a3c" stroke-width="0.6"/>
<path d="M137.10 276.80L140.30 280.00L137.10 283.20L133.90 280.00Z" fill="#1f4e6e" stroke="#0e2a3c" stroke-width="0.6"/>
<path d="M155.70 275.60L158.90 278.80L155.70 282.00L152.50 278.80Z" fill="#1f4e6e" stroke="#0e2a3c" stroke-width="0.6"/>
<path d="M155.70 285.80L158.90 289.00L155.70 292.20L152.50 289.00Z" fill="#1f4e6e" stroke="#0e2a3c" stroke-width="0.6"/>
<path d="M137.10 289.30L140.30 292.50L137.10 295.70L133.90 292.50Z" fill="#1f4e6e" stroke="#0e2a3c" stroke-width="0.6"/>
<line x1="73.00" y1="251.50" x2="73.00" y2="256.20" stroke="#1a1a1a" stroke-width="0.9" /><line x1="69.80" y1="251.50" x2="76.20" y2="251.50" stroke="#1a1a1a" stroke-width="0.9" /><line x1="69.80" y1="256.20" x2="76.20" y2="256.20" stroke="#1a1a1a" stroke-width="0.9" /><line x1="67.20" y1="254.00" x2="78.80" y2="254.00" stroke="#1a1a1a" stroke-width="0.9" />
<line x1="109.60" y1="275.80" x2="109.60" y2="283.20" stroke="#1a1a1a" stroke-width="0.9" /><line x1="106.40" y1="275.80" x2="112.80" y2="275.80" stroke="#1a1a1a" stroke-width="0.9" /><line x1="106.40" y1="283.20" x2="112.80" y2="283.20" stroke="#1a1a1a" stroke-width="0.9" /><line x1="103.80" y1="280.50" x2="115.40" y2="280.50" stroke="#1a1a1a" stroke-width="0.9" />
<line x1="146.40" y1="278.40" x2="146.40" y2="286.40" stroke="#1a1a1a" stroke-width="0.9" /><line x1="143.20" y1="278.40" x2="149.60" y2="278.40" stroke="#1a1a1a" stroke-width="0.9" /><line x1="143.20" y1="286.40" x2="149.60" y2="286.40" stroke="#1a1a1a" stroke-width="0.9" /><line x1="140.60" y1="282.80" x2="152.20" y2="282.80" stroke="#1a1a1a" stroke-width="0.9" />
<line x1="73.20" y1="219.90" x2="146.80" y2="219.90" stroke="#333" stroke-width="1" />
<text x="110" y="220.6" font-size="9" text-anchor="middle" fill="#2b2b2b" textLength="13.2" lengthAdjust="spacingAndGlyphs" >****</text>
<line x1="73.20" y1="237.40" x2="109.80" y2="237.40" stroke="#333" stroke-width="1" />
<text x="91.5" y="238.3" font-size="9" text-anchor="middle" fill="#2b2b2b" textLength="13.2" lengthAdjust="spacingAndGlyphs" >****</text>
<line x1="109.80" y1="256.20" x2="146.80" y2="256.20" stroke="#333" stroke-width="1" />
<text x="128.3" y="252.3" font-size="8" text-anchor="middle" fill="#2b2b2b" >ns</text>
</g>
<g id="panelD">
<text x="187.5" y="209.6" font-size="12" text-anchor="start" fill="#111" font-weight="bold" >D</text>
<text x="206.6" y="250.6" font-size="8.5" text-anchor="middle" fill="#2b2b2b" transform="rotate(-90 206.6 250.6)" >PBS</text>
<text x="206.6" y="322.5" font-size="8.5" text-anchor="middle" fill="#2b2b2b" transform="rotate(-90 206.6 322.5)" >HpB</text>
<rect x="359.2" y="274.3" width="24.60" height="67.30" fill="#e88b87"/>
<rect x="398.9" y="286.5" width="24.30" height="55.10" fill="#8a9fc4"/>
<line x1="345.20" y1="216.10" x2="345.20" y2="342.10" stroke="#1a1a1a" stroke-width="1.1" />
<line x1="344.70" y1="341.60" x2="436.90" y2="341.60" stroke="#1a1a1a" stroke-width="1.1" />
<line x1="342.00" y1="341.60" x2="345.20" y2="341.60" stroke="#1a1a1a" stroke-width="1" />
<text x="340.0" y="344.5" font-size="8" text-anchor="end" fill="#2b2b2b" >0</text>
<line x1="342.00" y1="317.10" x2="345.20" y2="317.10" stroke="#1a1a1a" stroke-width="1" />
<text x="340.0" y="320.0" font-size="8" text-anchor="end" fill="#2b2b2b" >2</text>
<line x1="342.00" y1="292.60" x2="345.20" y2="292.60" stroke="#1a1a1a" stroke-width="1" />
<text x="340.0" y="295.5" font-size="8" text-anchor="end" fill="#2b2b2b" >4</text>
<line x1="342.00" y1="268.10" x2="345.20" y2="268.10" stroke="#1a1a1a" stroke-width="1" />
<text x="340.0" y="271.0" font-size="8" text-anchor="end" fill="#2b2b2b" >6</text>
<line x1="342.00" y1="243.60" x2="345.20" y2="243.60" stroke="#1a1a1a" stroke-width="1" />
<text x="340.0" y="246.50000000000003" font-size="8" text-anchor="end" fill="#2b2b2b" >8</text>
<line x1="342.00" y1="219.10" x2="345.20" y2="219.10" stroke="#1a1a1a" stroke-width="1" />
<text x="340.0" y="222.00000000000003" font-size="8" text-anchor="end" fill="#2b2b2b" >10</text>
<line x1="371.50" y1="341.60" x2="371.50" y2="344.90" stroke="#1a1a1a" stroke-width="1" />
<text x="371.5" y="354.9" font-size="8.5" text-anchor="middle" fill="#2b2b2b" >PBS</text>
<line x1="411.05" y1="341.60" x2="411.05" y2="344.90" stroke="#1a1a1a" stroke-width="1" />
<text x="411.04999999999995" y="354.9" font-size="8.5" text-anchor="middle" fill="#2b2b2b" >HpB</text>
<text x="323.7" y="279.5" font-size="8.5" text-anchor="middle" fill="#2b2b2b" textLength="51.7" lengthAdjust="spacingAndGlyphs" transform="rotate(-90 323.7 279.5)" >Synovitis score</text>
<circle cx="360.80" cy="268.40" r="2.3" fill="#b01733" stroke="#5e0d1d" stroke-width="0.6"/>
<circle cx="366.20" cy="268.40" r="2.3" fill="#b01733" stroke="#5e0d1d" stroke-width="0.6"/>
<circle cx="371.50" cy="268.40" r="2.3" fill="#b01733" stroke="#5e0d1d" stroke-width="0.6"/>
<circle cx="376.90" cy="268.40" r="2.3" fill="#b01733" stroke="#5e0d1d" stroke-width="0.6"/>
<circle cx="382.30" cy="268.40" r="2.3" fill="#b01733" stroke="#5e0d1d" stroke-width="0.6"/>
<circle cx="371.50" cy="279.90" r="2.3" fill="#b01733" stroke="#5e0d1d" stroke-width="0.6"/>
<circle cx="371.50" cy="292.40" r="2.3" fill="#b01733" stroke="#5e0d1d" stroke-width="0.6"/>
<path d="M400.80 276.70L404.00 279.90L400.80 283.10L397.60 279.90Z" fill="#1f4e6e" stroke="#0e2a3c" stroke-width="0.6"/>
<path d="M407.20 276.70L410.40 279.90L407.20 283.10L404.00 279.90Z" fill="#1f4e6e" stroke="#0e2a3c" stroke-width="0.6"/>
<path d="M413.80 276.70L417.00 279.90L413.80 283.10L410.60 279.90Z" fill="#1f4e6e" stroke="#0e2a3c" stroke-width="0.6"/>
<path d="M420.50 276.70L423.70 279.90L420.50 283.10L417.30 279.90Z" fill="#1f4e6e" stroke="#0e2a3c" stroke-width="0.6"/>
<path d="M403.80 289.20L407.00 292.40L403.80 295.60L400.60 292.40Z" fill="#1f4e6e" stroke="#0e2a3c" stroke-width="0.6"/>
<path d="M410.50 289.20L413.70 292.40L410.50 295.60L407.30 292.40Z" fill="#1f4e6e" stroke="#0e2a3c" stroke-width="0.6"/>
<path d="M416.90 289.20L420.10 292.40L416.90 295.60L413.70 292.40Z" fill="#1f4e6e" stroke="#0e2a3c" stroke-width="0.6"/>
<line x1="371.50" y1="268.40" x2="371.50" y2="277.30" stroke="#1a1a1a" stroke-width="0.9" /><line x1="365.50" y1="268.40" x2="377.50" y2="268.40" stroke="#1a1a1a" stroke-width="0.9" /><line x1="365.50" y1="277.30" x2="377.50" y2="277.30" stroke="#1a1a1a" stroke-width="0.9" />
<line x1="410.80" y1="283.50" x2="410.80" y2="288.60" stroke="#1a1a1a" stroke-width="0.9" /><line x1="407.00" y1="283.50" x2="414.60" y2="283.50" stroke="#1a1a1a" stroke-width="0.9" /><line x1="407.00" y1="288.60" x2="414.60" y2="288.60" stroke="#1a1a1a" stroke-width="0.9" />
<line x1="371.50" y1="232.60" x2="410.50" y2="232.60" stroke="#333" stroke-width="1" />
<text x="391.0" y="234.4" font-size="11" text-anchor="middle" fill="#2b2b2b" >*</text>
</g>
<g id="panelE">
<text x="7.8" y="383.3" font-size="12" text-anchor="start" fill="#111" font-weight="bold" >E</text>
<text x="25.2" y="421.4" font-size="8.5" text-anchor="middle" fill="#2b2b2b" transform="rotate(-90 25.2 421.4)" >PBS</text>
<text x="25" y="493.4" font-size="8.5" text-anchor="middle" fill="#2b2b2b" transform="rotate(-90 25 493.4)" >HpB</text>
<rect x="170.9" y="455.3" width="24.30" height="60.00" fill="#e88b87"/>
<rect x="210.3" y="468.3" width="24.20" height="47.00" fill="#8a9fc4"/>
<line x1="156.70" y1="389.50" x2="156.70" y2="515.80" stroke="#1a1a1a" stroke-width="1.1" />
<line x1="156.20" y1="515.30" x2="248.50" y2="515.30" stroke="#1a1a1a" stroke-width="1.1" />
<line x1="153.50" y1="515.30" x2="156.70" y2="515.30" stroke="#1a1a1a" stroke-width="1" />
<text x="151.5" y="518.1999999999999" font-size="8" text-anchor="end" fill="#2b2b2b" >0</text>
<line x1="153.50" y1="484.60" x2="156.70" y2="484.60" stroke="#1a1a1a" stroke-width="1" />
<text x="151.5" y="487.49999999999994" font-size="8" text-anchor="end" fill="#2b2b2b" >1</text>
<line x1="153.50" y1="453.90" x2="156.70" y2="453.90" stroke="#1a1a1a" stroke-width="1" />
<text x="151.5" y="456.79999999999995" font-size="8" text-anchor="end" fill="#2b2b2b" >2</text>
<line x1="153.50" y1="423.20" x2="156.70" y2="423.20" stroke="#1a1a1a" stroke-width="1" />
<text x="151.5" y="426.0999999999999" font-size="8" text-anchor="end" fill="#2b2b2b" >3</text>
<line x1="153.50" y1="392.50" x2="156.70" y2="392.50" stroke="#1a1a1a" stroke-width="1" />
<text x="151.5" y="395.3999999999999" font-size="8" text-anchor="end" fill="#2b2b2b" >4</text>
<line x1="183.05" y1="515.30" x2="183.05" y2="518.60" stroke="#1a1a1a" stroke-width="1" />
<text x="183.05" y="528.6" font-size="8.5" text-anchor="middle" fill="#2b2b2b" >PBS</text>
<line x1="222.40" y1="515.30" x2="222.40" y2="518.60" stroke="#1a1a1a" stroke-width="1" />
<text x="222.4" y="528.6" font-size="8.5" text-anchor="middle" fill="#2b2b2b" >HpB</text>
<text x="139.6" y="453.2" font-size="8.5" text-anchor="middle" fill="#2b2b2b" textLength="106" lengthAdjust="spacingAndGlyphs" transform="rotate(-90 139.6 453.2)" >Hemosiderin deposition score</text>
<circle cx="177.90" cy="423.20" r="2.3" fill="#b01733" stroke="#5e0d1d" stroke-width="0.6"/>
<circle cx="188.20" cy="423.20" r="2.3" fill="#b01733" stroke="#5e0d1d" stroke-width="0.6"/>
<circle cx="172.40" cy="453.90" r="2.3" fill="#b01733" stroke="#5e0d1d" stroke-width="0.6"/>
<circle cx="183.00" cy="453.90" r="2.3" fill="#b01733" stroke="#5e0d1d" stroke-width="0.6"/>
<circle cx="193.60" cy="453.90" r="2.3" fill="#b01733" stroke="#5e0d1d" stroke-width="0.6"/>
<circle cx="177.90" cy="484.60" r="2.3" fill="#b01733" stroke="#5e0d1d" stroke-width="0.6"/>
<circle cx="188.20" cy="484.60" r="2.3" fill="#b01733" stroke="#5e0d1d" stroke-width="0.6"/>
<path d="M222.40 420.00L225.60 423.20L222.40 426.40L219.20 423.20Z" fill="#1f4e6e" stroke="#0e2a3c" stroke-width="0.6"/>
<path d="M218.80 450.70L222.00 453.90L218.80 457.10L215.60 453.90Z" fill="#1f4e6e" stroke="#0e2a3c" stroke-width="0.6"/>
<path d="M226.40 450.70L229.60 453.90L226.40 457.10L223.20 453.90Z" fill="#1f4e6e" stroke="#0e2a3c" stroke-width="0.6"/>
<path d="M211.80 481.40L215.00 484.60L211.80 487.80L208.60 484.60Z" fill="#1f4e6e" stroke="#0e2a3c" stroke-width="0.6"/>
<path d="M218.80 481.40L222.00 484.60L218.80 487.80L215.60 484.60Z" fill="#1f4e6e" stroke="#0e2a3c" stroke-width="0.6"/>
<path d="M226.10 481.40L229.30 484.60L226.10 487.80L222.90 484.60Z" fill="#1f4e6e" stroke="#0e2a3c" stroke-width="0.6"/>
<path d="M233.00 481.40L236.20 484.60L233.00 487.80L229.80 484.60Z" fill="#1f4e6e" stroke="#0e2a3c" stroke-width="0.6"/>
<line x1="183.00" y1="444.70" x2="183.00" y2="463.50" stroke="#1a1a1a" stroke-width="0.9" /><line x1="177.00" y1="444.70" x2="189.00" y2="444.70" stroke="#1a1a1a" stroke-width="0.9" /><line x1="177.00" y1="463.50" x2="189.00" y2="463.50" stroke="#1a1a1a" stroke-width="0.9" />
<line x1="222.40" y1="458.30" x2="222.40" y2="476.50" stroke="#1a1a1a" stroke-width="0.9" /><line x1="216.40" y1="458.30" x2="228.40" y2="458.30" stroke="#1a1a1a" stroke-width="0.9" /><line x1="216.40" y1="476.50" x2="228.40" y2="476.50" stroke="#1a1a1a" stroke-width="0.9" />
<line x1="183.00" y1="414.40" x2="222.40" y2="414.40" stroke="#333" stroke-width="1" />
<text x="202.7" y="411.6" font-size="8" text-anchor="middle" fill="#2b2b2b" >ns</text>
</g>
<g id="panelF">
<text x="265.5" y="383.3" font-size="12" text-anchor="start" fill="#111" font-weight="bold" >F</text>
<text x="282.7" y="421.3" font-size="8.5" text-anchor="middle" fill="#2b2b2b" transform="rotate(-90 282.7 421.3)" >PBS</text>
<text x="282.7" y="493.2" font-size="8.5" text-anchor="middle" fill="#2b2b2b" transform="rotate(-90 282.7 493.2)" >HpB</text>
<rect x="435" y="467.4" width="24.20" height="47.90" fill="#e88b87"/>
<rect x="474.4" y="446.2" width="24.20" height="69.10" fill="#8a9fc4"/>
<line x1="420.80" y1="389.50" x2="420.80" y2="515.80" stroke="#1a1a1a" stroke-width="1.1" />
<line x1="420.30" y1="515.30" x2="512.90" y2="515.30" stroke="#1a1a1a" stroke-width="1.1" />
<line x1="417.60" y1="515.30" x2="420.80" y2="515.30" stroke="#1a1a1a" stroke-width="1" />
<text x="415.6" y="518.1999999999999" font-size="8" text-anchor="end" fill="#2b2b2b" >0.0</text>
<line x1="417.60" y1="490.76" x2="420.80" y2="490.76" stroke="#1a1a1a" stroke-width="1" />
<text x="415.6" y="493.6599999999999" font-size="8" text-anchor="end" fill="#2b2b2b" >0.5</text>
<line x1="417.60" y1="466.22" x2="420.80" y2="466.22" stroke="#1a1a1a" stroke-width="1" />
<text x="415.6" y="469.11999999999995" font-size="8" text-anchor="end" fill="#2b2b2b" >1.0</text>
<line x1="417.60" y1="441.68" x2="420.80" y2="441.68" stroke="#1a1a1a" stroke-width="1" />
<text x="415.6" y="444.5799999999999" font-size="8" text-anchor="end" fill="#2b2b2b" >1.5</text>
<line x1="417.60" y1="417.14" x2="420.80" y2="417.14" stroke="#1a1a1a" stroke-width="1" />
<text x="415.6" y="420.03999999999996" font-size="8" text-anchor="end" fill="#2b2b2b" >2.0</text>
<line x1="417.60" y1="392.60" x2="420.80" y2="392.60" stroke="#1a1a1a" stroke-width="1" />
<text x="415.6" y="395.49999999999994" font-size="8" text-anchor="end" fill="#2b2b2b" >2.5</text>
<line x1="447.10" y1="515.30" x2="447.10" y2="518.60" stroke="#1a1a1a" stroke-width="1" />
<text x="447.1" y="528.6" font-size="8.5" text-anchor="middle" fill="#2b2b2b" >PBS</text>
<line x1="486.50" y1="515.30" x2="486.50" y2="518.60" stroke="#1a1a1a" stroke-width="1" />
<text x="486.5" y="528.6" font-size="8.5" text-anchor="middle" fill="#2b2b2b" >HpB</text>
<text x="397.4" y="453" font-size="8.5" text-anchor="middle" fill="#2b2b2b" textLength="95.5" lengthAdjust="spacingAndGlyphs" transform="rotate(-90 397.4 453)" >Cartilage degradation score</text>
<circle cx="442.00" cy="417.14" r="2.3" fill="#b01733" stroke="#5e0d1d" stroke-width="0.6"/>
<circle cx="452.30" cy="417.14" r="2.3" fill="#b01733" stroke="#5e0d1d" stroke-width="0.6"/>
<circle cx="436.50" cy="466.22" r="2.3" fill="#b01733" stroke="#5e0d1d" stroke-width="0.6"/>
<circle cx="447.10" cy="466.22" r="2.3" fill="#b01733" stroke="#5e0d1d" stroke-width="0.6"/>
<circle cx="457.70" cy="466.22" r="2.3" fill="#b01733" stroke="#5e0d1d" stroke-width="0.6"/>
<circle cx="442.00" cy="515.30" r="2.3" fill="#b01733" stroke="#5e0d1d" stroke-width="0.6"/>
<circle cx="452.30" cy="515.30" r="2.3" fill="#b01733" stroke="#5e0d1d" stroke-width="0.6"/>
<path d="M479.50 413.94L482.70 417.14L479.50 420.34L476.30 417.14Z" fill="#1f4e6e" stroke="#0e2a3c" stroke-width="0.6"/>
<path d="M486.50 413.94L489.70 417.14L486.50 420.34L483.30 417.14Z" fill="#1f4e6e" stroke="#0e2a3c" stroke-width="0.6"/>
<path d="M493.50 413.94L496.70 417.14L493.50 420.34L490.30 417.14Z" fill="#1f4e6e" stroke="#0e2a3c" stroke-width="0.6"/>
<path d="M475.90 463.02L479.10 466.22L475.90 469.42L472.70 466.22Z" fill="#1f4e6e" stroke="#0e2a3c" stroke-width="0.6"/>
<path d="M482.90 463.02L486.10 466.22L482.90 469.42L479.70 466.22Z" fill="#1f4e6e" stroke="#0e2a3c" stroke-width="0.6"/>
<path d="M490.20 463.02L493.40 466.22L490.20 469.42L487.00 466.22Z" fill="#1f4e6e" stroke="#0e2a3c" stroke-width="0.6"/>
<path d="M497.10 463.02L500.30 466.22L497.10 469.42L493.90 466.22Z" fill="#1f4e6e" stroke="#0e2a3c" stroke-width="0.6"/>
<line x1="447.10" y1="451.40" x2="447.10" y2="481.00" stroke="#1a1a1a" stroke-width="0.9" /><line x1="441.10" y1="451.40" x2="453.10" y2="451.40" stroke="#1a1a1a" stroke-width="0.9" /><line x1="441.10" y1="481.00" x2="453.10" y2="481.00" stroke="#1a1a1a" stroke-width="0.9" />
<line x1="486.50" y1="435.60" x2="486.50" y2="455.30" stroke="#1a1a1a" stroke-width="0.9" /><line x1="480.50" y1="435.60" x2="492.50" y2="435.60" stroke="#1a1a1a" stroke-width="0.9" /><line x1="480.50" y1="455.30" x2="492.50" y2="455.30" stroke="#1a1a1a" stroke-width="0.9" />
<line x1="447.10" y1="405.30" x2="486.50" y2="405.30" stroke="#333" stroke-width="1" />
<text x="466.8" y="402.5" font-size="8" text-anchor="middle" fill="#2b2b2b" >ns</text>
</g>
<g transform="translate(211.2 215.8)"><g clip-path="url(#cD1)"><rect x="-2" y="-2" width="97" height="73" fill="#c286c6"/>
<path d="M64 -2L96 -2L96 72L58 72C70 60 76 40 72 20C70 10 66 4 64 -2Z" fill="#c899d0" filter="url(#b1)" />
<path d="M78 -2L96 -2L96 72L72 72C84 55 86 30 78 -2Z" fill="#d3aedb" filter="url(#b2)" />
<path d="M36 56L60 44L74 50L70 72L36 72Z" fill="#c288c6" filter="url(#b2)" />
<path d="M-2 -2L64 -2L65 14L62 32L52 44L34 49L18 45L6 32L-2 20Z" fill="#b088cc" />
<clipPath id="tc1"><path d="M-2 -2L64 -2L65 14L62 32L52 44L34 49L18 45L6 32L-2 20Z"/></clipPath><g clip-path="url(#tc1)" opacity="0.6"><rect x="0" y="0" width="94" height="70" filter="url(#spK)"/></g>
<clipPath id="tc2"><path d="M-2 -2L64 -2L65 14L62 32L52 44L34 49L18 45L6 32L-2 20Z"/></clipPath><g clip-path="url(#tc2)" opacity="0.5"><rect x="0" y="0" width="94" height="70" filter="url(#spP)"/></g>
<clipPath id="tc3"><path d="M-2 -2L64 -2L65 14L62 32L52 44L34 49L18 45L6 32L-2 20Z"/></clipPath><g clip-path="url(#tc3)" opacity="0.42"><rect x="0" y="0" width="94" height="70" filter="url(#spW3)"/></g>
<circle cx="41" cy="13.4" r="1.9" fill="#fdf8fd" filter="url(#b05)"/>
<ellipse cx="12.2" cy="11.5" rx="1.1" ry="2.4" fill="#a01870" transform="rotate(10 12.2 11.5)" filter="url(#b05)"/>
<path d="M4 12C10 22 16 30 26 38" fill="none" stroke="#c873ba" stroke-width="4.5" filter="url(#b1)" opacity="0.8" />
<path d="M29 -1C29 10 34 18 40 19C48 19 54 9 55 -1" fill="none" stroke="#a878c6" stroke-width="3.2" filter="url(#b05)" opacity="0.8" />
<path d="M-2 15C4 30 14 43 30 47.5C44 50.5 56 44 62 32C66 22 65.5 10 64.5 -2" fill="none" stroke="#d160ac" stroke-width="5.4" filter="url(#b05)" />
<path d="M-2 25C4 38 14 48.5 30 52.5C46 55.5 60 48 67 33" fill="none" stroke="#c47cc2" stroke-width="3.4" filter="url(#b1)" />
<path d="M-2 26C4 39 12 48 24 53L-2 47Z" fill="#cf9ad2" filter="url(#b05)" />
<path d="M-2 47L16 51L32 55L36 60L36 72L-2 72Z" fill="#c670ba" />
<path d="M1 55L20 57L31 62L33 72L1 72Z" fill="#ae8ece" filter="url(#b05)" />
<clipPath id="tc4"><path d="M1 55L20 57L31 62L33 72L1 72Z"/></clipPath><g clip-path="url(#tc4)" opacity="0.5"><rect x="0" y="0" width="94" height="70" filter="url(#spK)"/></g>
<clipPath id="tc5"><path d="M1 55L20 57L31 62L33 72L1 72Z"/></clipPath><g clip-path="url(#tc5)" opacity="0.5"><rect x="0" y="0" width="94" height="70" filter="url(#spP)"/></g>
<clipPath id="tc6"><path d="M1 55L20 57L31 62L33 72L1 72Z"/></clipPath><g clip-path="url(#tc6)" opacity="0.45"><rect x="0" y="0" width="94" height="70" filter="url(#spW3)"/></g>
<ellipse cx="63" cy="45.5" rx="7" ry="3.6" fill="#c64fa2" transform="rotate(-40 63 45.5)" filter="url(#b1)"/>
<ellipse cx="53" cy="58" rx="5" ry="2.8" fill="#c95aa8" transform="rotate(-30 53 58)" filter="url(#b1)"/>
<path d="M-2 46.5C10 49 24 52 33 54.5C36 56 37 60 36.5 72" fill="none" stroke="#ecd6ee" stroke-width="0.8" filter="url(#b05)" />
<path d="M32 54L37.2 56.2L36 61Z" fill="#faf4fa" filter="url(#b05)" />
<path d="M66.2 1C66.8 8 65.8 14 64.8 20" fill="none" stroke="#f6eef6" stroke-width="1" filter="url(#b05)" />
<path d="M96 18L91 22C90 40 88 56 82 72L96 72Z" fill="#e6e4e8" filter="url(#b05)" />
<path d="M90.5 22C89.5 40 87.5 56 81.5 72" fill="none" stroke="#efe2f0" stroke-width="1.6" filter="url(#b05)" />
<path d="M89 2C90.5 8 90.8 14 90.6 22" fill="none" stroke="#e3cde6" stroke-width="1.6" filter="url(#b05)" /></g><path d="M66.5 13.2L89.5 18.6" fill="none" stroke="#1a1a1a" stroke-width="0.6" /><path d="M65 11.7L68 14.7M68 11.7L65 14.7M88 17.1L91 20.1M91 17.1L88 20.1" fill="none" stroke="#1a1a1a" stroke-width="0.6" /><rect x="79.6" y="66" width="10.4" height="1.1" fill="#111"/><rect x="0.4" y="0.4" width="91.5" height="68.0" fill="none" stroke="#3a3a3a" stroke-width="0.85"/></g>
<g transform="translate(211.2 287.7)"><g clip-path="url(#cD2)"><rect x="-2" y="-2" width="97" height="73" fill="#cb63b0"/>
<path d="M56 30L68 28L74 44L66 56L56 52Z" fill="#d48ac6" filter="url(#b2)" opacity="0.6" />
<path d="M46 -2L60 -2L62 12L50 18Z" fill="#cf8fcc" filter="url(#b2)" opacity="0.85" />
<path d="M44 50L60 56L72 52L80 72L40 72Z" fill="#c46cb8" filter="url(#b2)" />
<path d="M-2 30L5 38L8 46L5 56L-2 62Z" fill="#cb9ad2" filter="url(#b1)" />
<path d="M3 40C14 48 30 46 41 34L43 42C40 51 28 58 14 59.4L6 55Z" fill="#d85faa" filter="url(#b1)" />
<path d="M-2 -2L36 -2L40 10L41.4 24L38 36L28 42.5L15 45L5 39L-2 31Z" fill="#b88fce" />
<clipPath id="tc7"><path d="M-2 -2L36 -2L40 10L41.4 24L38 36L28 42.5L15 45L5 39L-2 31Z"/></clipPath><g clip-path="url(#tc7)" opacity="0.55"><rect x="0" y="0" width="94" height="70" filter="url(#spK)"/></g>
<clipPath id="tc8"><path d="M-2 -2L36 -2L40 10L41.4 24L38 36L28 42.5L15 45L5 39L-2 31Z"/></clipPath><g clip-path="url(#tc8)" opacity="0.5"><rect x="0" y="0" width="94" height="70" filter="url(#spP)"/></g>
<clipPath id="tc9"><path d="M-2 -2L36 -2L40 10L41.4 24L38 36L28 42.5L15 45L5 39L-2 31Z"/></clipPath><g clip-path="url(#tc9)" opacity="0.95"><rect x="0" y="0" width="94" height="70" filter="url(#spW3)"/></g>
<path d="M-2 10C6 12 10 20 8 30" fill="none" stroke="#c27cc4" stroke-width="3" filter="url(#b1)" />
<path d="M30 63L44 58L58 60L66 72L30 72Z" fill="#b590cf" filter="url(#b05)" />
<clipPath id="tc10"><path d="M30 63L44 58L58 60L66 72L30 72Z"/></clipPath><g clip-path="url(#tc10)" opacity="0.5"><rect x="0" y="0" width="94" height="70" filter="url(#spP)"/></g>
<clipPath id="tc11"><path d="M30 63L44 58L58 60L66 72L30 72Z"/></clipPath><g clip-path="url(#tc11)" opacity="0.8"><rect x="0" y="0" width="94" height="70" filter="url(#spW3)"/></g>
<path d="M-2 60L10 62L24 60L30 72L-2 72Z" fill="#c274bd" filter="url(#b1)" />
<path d="M36.5 -1C40 8 42.5 20 42.5 30C42.5 42 38 50 30 55C22 59 12 60.5 7.5 56.5" fill="none" stroke="#fbf4fb" stroke-width="1.1" filter="url(#b05)" />
<path d="M41.5 42C38 50 30 55.5 20 58C14 59.5 9.5 59 7.5 55.5C11 57.5 16 57 22 55C30 52 38 47 41.5 42Z" fill="#fcf8fc" filter="url(#b05)" />
<path d="M44.5 47.5C48 52 54 54.5 62 53.5" fill="none" stroke="#f6e8f6" stroke-width="1.2" filter="url(#b05)" />
<path d="M64 -2L96 -2L96 56C88 46 82 36 78.8 29.7C75 22 72 14 70.4 10C68 4 66 1 64 -2Z" fill="#e7e5e9" />
<path d="M64.5 -2C66.5 1 68.5 4 70.9 10C72.5 14 75.5 22 79.3 29.7C82.5 36 88.5 46 96.5 56" fill="none" stroke="#dcbce0" stroke-width="1.6" filter="url(#b05)" />
<path d="M62.5 -2C64.5 1 66.5 4 68.9 10C70.5 14 73.5 22 77.3 29.7C80.5 36 86.5 46 94.5 57" fill="none" stroke="#c583c8" stroke-width="1.5" filter="url(#b05)" /></g><path d="M41.2 22.2L55.8 16.4" fill="none" stroke="#1a1a1a" stroke-width="0.6" /><path d="M39.7 20.7L42.7 23.7M42.7 20.7L39.7 23.7M54.3 14.9L57.3 17.9M57.3 14.9L54.3 17.9" fill="none" stroke="#1a1a1a" stroke-width="0.6" /><rect x="79.2" y="65.5" width="10.8" height="1.3" fill="#2a0a2a"/><rect x="0.4" y="0.4" width="91.5" height="68.10000000000001" fill="none" stroke="#3a3a3a" stroke-width="0.85"/></g>
<g transform="translate(30.4 386.4)"><g clip-path="url(#cE1)"><rect x="-2" y="-2" width="97" height="73" fill="#f0d6e3"/>
<path d="M40 -2L58 -2C58 14 53 30 44 41C34 50 16 51 -2 47L-2 40C16 44 30 42 38 34C46 24 44 10 40 -2Z" fill="#f0c2d8" filter="url(#b1)" />
<path d="M54 -2C54 14 50 28 42 38C33 46 16 47 -2 43.5" fill="none" stroke="#f8e6f0" stroke-width="1.2" filter="url(#b05)" />
<path d="M16 -2L52 -2C54 12 50 28 42 38C34 46 18 46 4 42L-2 36L-2 32C10 34 22 30 25 26C22 18 20 10 18 6Z" fill="#e8bcd4" filter="url(#b05)" />
<clipPath id="tc12"><path d="M16 -2L52 -2C54 12 50 28 42 38C34 46 18 46 4 42L-2 36L-2 32C10 34 22 30 25 26C22 18 20 10 18 6Z"/></clipPath><g clip-path="url(#tc12)" opacity="0.36"><rect x="0" y="0" width="94" height="70" filter="url(#spP)"/></g>
<clipPath id="tc13"><path d="M16 -2L52 -2C54 12 50 28 42 38C34 46 18 46 4 42L-2 36L-2 32C10 34 22 30 25 26C22 18 20 10 18 6Z"/></clipPath><g clip-path="url(#tc13)" opacity="0.55"><rect x="0" y="0" width="94" height="70" filter="url(#spW3)"/></g>
<circle cx="30.8" cy="14.5" r="1.5" fill="#fdf6fa" filter="url(#b05)"/>
<path d="M-2 -2L14 -2L18 6L20 16L23 25L18 29L6 31L-2 30Z" fill="#e9bcd4" filter="url(#b05)" />
<clipPath id="tc14"><path d="M-2 -2L14 -2L18 6L20 16L23 25L18 29L6 31L-2 30Z"/></clipPath><g clip-path="url(#tc14)" opacity="0.3"><rect x="0" y="0" width="94" height="70" filter="url(#spP)"/></g>
<clipPath id="tc15"><path d="M-2 -2L14 -2L18 6L20 16L23 25L18 29L6 31L-2 30Z"/></clipPath><g clip-path="url(#tc15)" opacity="0.4"><rect x="0" y="0" width="94" height="70" filter="url(#spW3)"/></g>
<path d="M14 -2C15 3 16.5 6 18.3 7.5C22 8.5 25 8 28 7C32 5.8 35 4.5 36.4 3.3C37.6 2 38.4 0 38.8 -2" fill="none" stroke="#9a62a8" stroke-width="4.6" filter="url(#b05)" opacity="0.55" />
<path d="M18.3 7.5C20 11 21.5 16 22.5 20C23.5 23.5 25 26 23.9 28.4C22.5 30.5 19 31.2 15.5 31.4C10 31.8 4 31.4 -2 31" fill="none" stroke="#9a62a8" stroke-width="4.6" filter="url(#b05)" opacity="0.55" />
<path d="M14 -2C15 3 16.5 6 18.3 7.5C22 8.5 25 8 28 7C32 5.8 35 4.5 36.4 3.3C37.6 2 38.4 0 38.8 -2" fill="none" stroke="#b8147a" stroke-width="3.1" filter="url(#b05)" />
<path d="M18.3 7.5C20 11 21.5 16 22.5 20C23.5 23.5 25 26 23.9 28.4C22.5 30.5 19 31.2 15.5 31.4C10 31.8 4 31.4 -2 31" fill="none" stroke="#b8147a" stroke-width="3.1" filter="url(#b05)" />
<path d="M-2 46C5 47 11 49 15 53C17 55 18 57 18 59" fill="none" stroke="#e894b6" stroke-width="2.4" filter="url(#b1)" />
<path d="M-2 52C3 53 7 56 9 60C10 62 10.5 65 10.5 68" fill="none" stroke="#e9a0c0" stroke-width="2.2" filter="url(#b1)" />
<path d="M-2 58L8 61L15 66L17 72L-2 72Z" fill="#e6b6d2" filter="url(#b05)" />
<clipPath id="tc16"><path d="M-2 58L8 61L15 66L17 72L-2 72Z"/></clipPath><g clip-path="url(#tc16)" opacity="0.35"><rect x="0" y="0" width="94" height="70" filter="url(#spP)"/></g>
<clipPath id="tc17"><path d="M-2 58L8 61L15 66L17 72L-2 72Z"/></clipPath><g clip-path="url(#tc17)" opacity="0.4"><rect x="0" y="0" width="94" height="70" filter="url(#spW3)"/></g>
<path d="M62 -2L90 -2C88 20 86 40 80 72L30 72C50 60 60 40 62 -2Z" fill="#f1d8e6" filter="url(#b2)" />
<path d="M77 8C73 14 71 22 67 30C63 38 59 44 53 50C49 54 43 58 38 61" fill="none" stroke="#b4aede" stroke-width="6" filter="url(#b2)" opacity="0.6" />
<clipPath id="tc18"><path d="M72 2L82 6L80 20L74 34L66 48L54 58L40 66L33 61L46 52L56 42L62 30L68 16Z"/></clipPath><g clip-path="url(#tc18)" opacity="0.85"><rect x="0" y="0" width="94" height="70" filter="url(#spB)"/></g>
<ellipse cx="58" cy="45" rx="4.4" ry="3" fill="#7a74c0" transform="rotate(-35 58 45)" filter="url(#b1)" opacity="0.75"/>
<path d="M54 40L61 45M54 47L63 41M57.5 38L60 49M52 45L60 51" fill="none" stroke="#6361b6" stroke-width="1.3" filter="url(#b05)" opacity="0.9" />
<ellipse cx="43.5" cy="58" rx="4.2" ry="2" fill="#8c88cc" transform="rotate(-25 43.5 58)" filter="url(#b1)" opacity="0.7"/>
<path d="M40 56L45 59.5M42.5 60.5L47 56.5M46 52.5L49.5 55" fill="none" stroke="#7673c0" stroke-width="1.3" filter="url(#b05)" opacity="0.85" />
<path d="M75 10L72.5 16M71 20L69 26M67 29L64 36" fill="none" stroke="#8583c8" stroke-width="1.3" filter="url(#b05)" opacity="0.8" />
<path d="M88 -2L96 -2L96 72L79 72C82 60 84.5 46 86 32C87 20 87.6 10 88 -2Z" fill="#e7e5e1" />
<path d="M87.5 -2C87.1 10 86.5 20 85.5 32C84 46 81.5 60 78.5 72" fill="none" stroke="#f4e8ef" stroke-width="2" filter="url(#b05)" /></g><path d="M71.6 45.7L66.5 45.7" fill="none" stroke="#111" stroke-width="1" /><path d="M63.6 45.7L67.6 43.2L67.6 48.2Z" fill="#111" /><rect x="79.2" y="66.8" width="10" height="1.3" fill="#4a4a4a"/><rect x="0.4" y="0.4" width="91.5" height="68.2" fill="none" stroke="#3a3a3a" stroke-width="0.85"/></g>
<g transform="translate(30.4 458.1)"><g clip-path="url(#cE2)"><rect x="-2" y="-2" width="97" height="73" fill="#e9bdd8"/>
<path d="M34 -2L50 -2C66 14 80 36 96 66L96 72L52 72C58 56 58 40 52 26C48 16 42 6 34 -2Z" fill="#e8bedc" filter="url(#b1)" />
<path d="M44 -2C58 14 70 34 84 60" fill="none" stroke="#f0d2e8" stroke-width="3" filter="url(#b2)" />
<path d="M56 30C62 36 66 44 68 52" fill="none" stroke="#d9a4d0" stroke-width="3" filter="url(#b2)" opacity="0.7" />
<path d="M21 11L36 7C44 13 52 22 55.4 34C57.4 46 56.4 58 52.4 72L26 72C29 64 29 58 25.5 54C20 49 10 49 8 44C10 40 18 36 22 31C26 25 25 18 21 11Z" fill="#dba8d0" filter="url(#b05)" />
<clipPath id="tc19"><path d="M21 11L36 7C44 13 52 22 55.4 34C57.4 46 56.4 58 52.4 72L26 72C29 64 29 58 25.5 54C20 49 10 49 8 44C10 40 18 36 22 31C26 25 25 18 21 11Z"/></clipPath><g clip-path="url(#tc19)" opacity="0.42"><rect x="0" y="0" width="94" height="70" filter="url(#spP)"/></g>
<clipPath id="tc20"><path d="M21 11L36 7C44 13 52 22 55.4 34C57.4 46 56.4 58 52.4 72L26 72C29 64 29 58 25.5 54C20 49 10 49 8 44C10 40 18 36 22 31C26 25 25 18 21 11Z"/></clipPath><g clip-path="url(#tc20)" opacity="0.7"><rect x="0" y="0" width="94" height="70" filter="url(#spW3)"/></g>
<path d="M-2 14L10 14L20 18L23 26L18 34L9 40L6 46L12 49L22 51L26 57L24 64L23 72L-2 72Z" fill="#dda8d0" filter="url(#b05)" />
<clipPath id="tc21"><path d="M-2 14L10 14L20 18L23 26L18 34L9 40L6 46L12 49L22 51L26 57L24 64L23 72L-2 72Z"/></clipPath><g clip-path="url(#tc21)" opacity="0.4"><rect x="0" y="0" width="94" height="70" filter="url(#spP)"/></g>
<clipPath id="tc22"><path d="M-2 14L10 14L20 18L23 26L18 34L9 40L6 46L12 49L22 51L26 57L24 64L23 72L-2 72Z"/></clipPath><g clip-path="url(#tc22)" opacity="0.55"><rect x="0" y="0" width="94" height="70" filter="url(#spW3)"/></g>
<path d="M-2 -2L16 -2L22 14L8 12L-2 11Z" fill="#e9b8d8" filter="url(#b05)" />
<path d="M20 -2C30 6 40 18 46 30" fill="none" stroke="#f2d4e8" stroke-width="2.6" filter="url(#b1)" />
<path d="M-2 12.5C5 12.6 11 13 15.5 14.5C19.5 16 22.5 18.5 23.6 22C24.6 26 24 29 21.5 32C19 34.6 14 37.2 10 39.6C7 41.6 6 44 7.6 46C10 48.4 15 48.4 19.5 49.6C23 50.8 25.6 53 26.6 56C27.6 59.6 26.6 63 25 66.5C24.4 68.5 24 70 23.8 72" fill="none" stroke="#9a5ea8" stroke-width="4.8" filter="url(#b05)" opacity="0.55" />
<path d="M-2 12.5C5 12.6 11 13 15.5 14.5C19.5 16 22.5 18.5 23.6 22C24.6 26 24 29 21.5 32C19 34.6 14 37.2 10 39.6C7 41.6 6 44 7.6 46C10 48.4 15 48.4 19.5 49.6C23 50.8 25.6 53 26.6 56C27.6 59.6 26.6 63 25 66.5C24.4 68.5 24 70 23.8 72" fill="none" stroke="#b4127a" stroke-width="3.2" filter="url(#b05)" />
<path d="M53.6 35C57.2 41 59 48 58.2 55C57.6 61 55.6 66 53.6 71L52 71C54 65 55 60 55.2 55C55.4 48 55 41 53.6 35Z" fill="#fefafd" filter="url(#b05)" />
<path d="M48.6 -2L96 -2L96 63C93.6 60.5 91.4 58.5 89.4 56C85 50 82 45 78.2 39C73 31 69 24 64.3 16.7C60 10 55 4 48.6 -2Z" fill="#e5e3e1" />
<path d="M48 -2C54.4 4 59.4 10 63.7 16.7C68.4 24 72.4 31 77.6 39C81.4 45 84.4 50 88.8 56C90.8 58.5 93 60.5 96 63.5" fill="none" stroke="#efd6e8" stroke-width="2.2" filter="url(#b05)" /></g><path d="M73.4 28.3L67 28.3" fill="none" stroke="#111" stroke-width="1" /><path d="M63.9 28.3L68 25.8L68 30.8Z" fill="#111" /><rect x="79" y="66.4" width="10.2" height="1.3" fill="#111"/><rect x="0.4" y="0.4" width="91.5" height="68.7" fill="none" stroke="#3a3a3a" stroke-width="0.85"/></g>
<g transform="translate(286.2 386.2)"><g clip-path="url(#cF1)"><rect x="-2" y="-2" width="97" height="73" fill="#acd8ea"/>
<path d="M-2 -2L30 -2L26 16L10 30L-2 34Z" fill="#bcdcee" filter="url(#b2)" />
<path d="M20 4L30 8L28 20L18 14Z" fill="#c5cfea" filter="url(#b2)" opacity="0.8" />
<path d="M34 4L46 6L60 12L66 30L64 46L50 38L40 26Z" fill="#84cde6" filter="url(#b2)" />
<path d="M20 20L34 24L46 40L30 36Z" fill="#98d4e8" filter="url(#b2)" />
<path d="M-2 44L30 46L56 54L70 52L92 52L96 72L-2 72Z" fill="#a8d4ea" filter="url(#b1)" />
<path d="M66 40L96 36L96 72L68 72L62 58Z" fill="#b2c0e2" filter="url(#b2)" opacity="0.9" />
<path d="M42.6 -2C45 2 48 4.5 52 6C57 7.8 62 8.2 66 7.6C71 7 75 5 79.4 -2Z" fill="#b61c7a" filter="url(#b05)" />
<path d="M41.6 -2C44 3 48 6 52 7.6C57 9.4 62 9.8 66.5 9.2C72 8.4 77 5.6 80.6 -2" fill="none" stroke="#8a70b8" stroke-width="1.3" filter="url(#b05)" opacity="0.7" />
<path d="M67 13L76 10L86 6L96 4L96 36L86 37L74 32L68 24Z" fill="#a9b8e0" filter="url(#b05)" />
<clipPath id="tc23"><path d="M67 13L76 10L86 6L96 4L96 36L86 37L74 32L68 24Z"/></clipPath><g clip-path="url(#tc23)" opacity="0.7"><rect x="0" y="0" width="94" height="70" filter="url(#spD)"/></g>
<clipPath id="tc24"><path d="M67 13L76 10L86 6L96 4L96 36L86 37L74 32L68 24Z"/></clipPath><g clip-path="url(#tc24)" opacity="0.9"><rect x="0" y="0" width="94" height="70" filter="url(#spW3)"/></g>
<path d="M75 30L80 28L86 29L89 33L84 35L82 32L77 33Z" fill="#f6fbff" filter="url(#b05)" />
<path d="M17 54L26 50L40 50L50 56L52 68L36 72L16 72Z" fill="#a8b6de" filter="url(#b05)" />
<clipPath id="tc25"><path d="M17 54L26 50L40 50L50 56L52 68L36 72L16 72Z"/></clipPath><g clip-path="url(#tc25)" opacity="0.65"><rect x="0" y="0" width="94" height="70" filter="url(#spD)"/></g>
<clipPath id="tc26"><path d="M17 54L26 50L40 50L50 56L52 68L36 72L16 72Z"/></clipPath><g clip-path="url(#tc26)" opacity="0.85"><rect x="0" y="0" width="94" height="70" filter="url(#spW3)"/></g>
<path d="M-2 55C4 56.5 10 61 14.8 69L14 72L-2 72Z" fill="#9a78b8" filter="url(#b05)" />
<path d="M-2 56.6C4 58 9 62 13 69" fill="none" stroke="#b01a74" stroke-width="3.4" filter="url(#b05)" />
<path d="M24 13.6L30 17.5L36.5 18.6C39 24 42.5 28.5 46 32.5C53 39.5 62 44 73.5 47.2C64 47.6 54 45 46.5 40C38.5 34 29 24 24 13.6Z" fill="#fbfdff" filter="url(#b05)" />
<path d="M-2 35C6 34.6 14 34.4 21.7 35.2C28 36.6 34 39.6 38.5 42.4C46 46.4 53 49.6 61 52C52 52 44 49.6 36 46.8C26 44 12 43.4 -2 43.8Z" fill="#fbfdff" filter="url(#b05)" />
<path d="M72.6 57.4L77 56L78.4 60L82 59L86.4 56.6L86 62L83 66L78 67L74.4 63.6Z" fill="#f8fcff" filter="url(#b05)" /></g><rect x="70" y="66.9" width="20.4" height="0.9" fill="#111"/><rect x="0.4" y="0.4" width="92.60000000000001" height="68.4" fill="none" stroke="#3a3a3a" stroke-width="0.85"/></g>
<g transform="translate(286.2 458.1)"><g clip-path="url(#cF2)"><rect x="-2" y="-2" width="97" height="73" fill="#94d6da"/>
<path d="M20 -2L64 -2L56 10L30 14L20 8Z" fill="#a8dae8" filter="url(#b2)" />
<path d="M62 -2L96 -2L96 32L84 28L74 22L66 12Z" fill="#b4c6e6" filter="url(#b2)" />
<path d="M82 34L96 44L96 56L80 52L72 44Z" fill="#a6cfe2" filter="url(#b2)" />
<path d="M6.4 30L14 27L24.5 31L24 38L12 39Z" fill="#948cc4" filter="url(#b1)" />
<path d="M28 16L46 18L44 30L30 28Z" fill="#a9bfe0" filter="url(#b2)" opacity="0.8" />
<path d="M-2 6L10 8L8 22L-2 30Z" fill="#a8dce6" filter="url(#b2)" />
<path d="M-2 50L14 52L22 62L20 72L-2 72Z" fill="#aacbe4" filter="url(#b2)" />
<path d="M49.6 62L58 57L70 59L80 56L96 56L96 72L48 72Z" fill="#a0abdb" filter="url(#b05)" />
<clipPath id="tc27"><path d="M49.6 62L58 57L70 59L80 56L96 56L96 72L48 72Z"/></clipPath><g clip-path="url(#tc27)" opacity="0.8"><rect x="0" y="0" width="94" height="70" filter="url(#spD)"/></g>
<clipPath id="tc28"><path d="M49.6 62L58 57L70 59L80 56L96 56L96 72L48 72Z"/></clipPath><g clip-path="url(#tc28)" opacity="0.6"><rect x="0" y="0" width="94" height="70" filter="url(#spW3)"/></g>
<path d="M-2 -2L19 -2C17 3 9 5 -2 6.4Z" fill="#b81d78" filter="url(#b05)" />
<path d="M4.6 35L20 40C28 41.2 38 38.8 47 34.4C54.4 30.4 60.6 24.8 66.6 17.2C70.6 12 74.6 6 78.4 -2L85.6 -2C82.4 6 78.4 13.8 73.4 20.8C66.4 30 57 38 47.4 42.4C38.4 46 30 47.4 24.8 47L13 51.2Z" fill="#fbfdff" filter="url(#b05)" />
<path d="M76 33.5L83 30.7L96 41L96 44.5L81 39.6Z" fill="#f8fcff" filter="url(#b05)" />
<path d="M16 57C24 55 32 52.6 38.5 49" fill="none" stroke="#e6f5f9" stroke-width="1.1" filter="url(#b05)" /></g><rect x="70" y="66.4" width="20.4" height="0.9" fill="#111"/><rect x="0.4" y="0.4" width="92.60000000000001" height="68.7" fill="none" stroke="#3a3a3a" stroke-width="0.85"/></g>
<rect x="0.6" y="0.6" width="518.8" height="536.8" fill="none" stroke="#4a4a4a" stroke-width="1.2"/>
</svg>
</body></html>
